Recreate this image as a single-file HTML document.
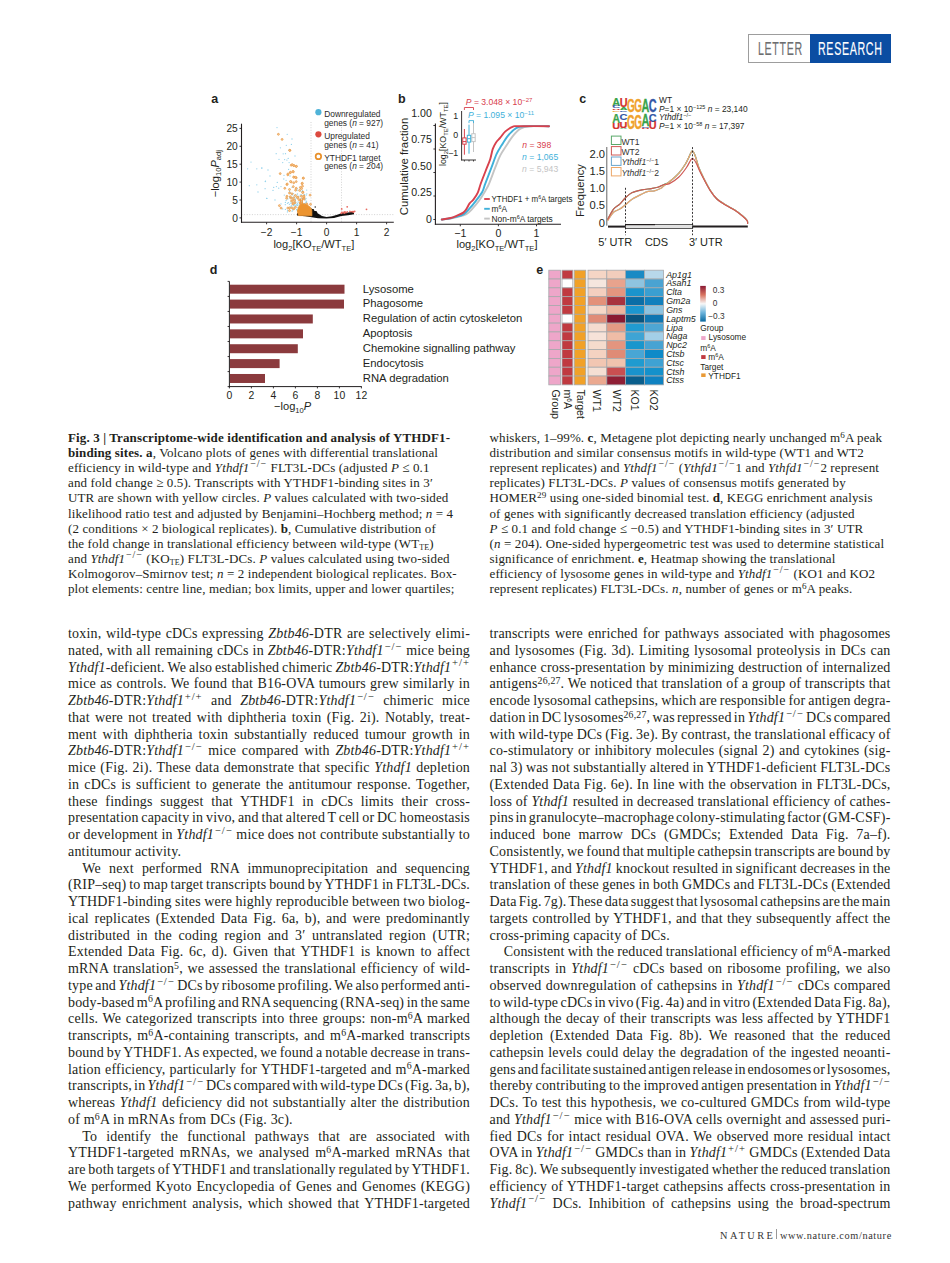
<!DOCTYPE html>
<html><head><meta charset="utf-8">
<style>
html,body{margin:0;padding:0;background:#fff;}
body{width:950px;height:1263px;position:relative;overflow:hidden;font-family:"Liberation Serif",serif;color:#231f20;}
.hdr{position:absolute;left:748px;top:34px;width:143px;height:28px;}
.hdr .w{position:absolute;left:0;top:0;width:61px;height:27px;border:1px solid #9d9d9d;border-right:none;background:#fff;}
.hdr .b{position:absolute;left:62px;top:0;width:81px;height:29px;background:#0b4da2;}
.hdr span{position:absolute;top:5.3px;font-family:"Liberation Sans",sans-serif;font-size:17.8px;line-height:21px;white-space:nowrap;transform-origin:0 0;-webkit-text-stroke:0.15px currentColor;letter-spacing:1.1px;}
.col{position:absolute;white-space:nowrap;}
.cap{font-size:13px;line-height:15.18px;letter-spacing:0.12px;}
.txt{font-size:14px;line-height:16.75px;letter-spacing:0.18px;}
.txt .l{text-align:justify;text-align-last:justify;}
.txt .e{text-align:left;}
.txt .ind{text-indent:14.2px;}
i{font-style:italic;}
sup{font-size:0.7em;vertical-align:0;position:relative;top:-0.45em;line-height:0;}
sup.k{letter-spacing:1px;margin-left:0.8px;font-size:0.76em;top:-0.5em;}
sub{font-size:0.62em;vertical-align:0;position:relative;top:0.25em;line-height:0;}
.ftr{position:absolute;left:720px;top:1230px;font-size:10.3px;line-height:12px;white-space:nowrap;color:#333;}
svg{position:absolute;left:0;top:0;}
</style></head><body>

<div class="hdr">
  <div class="w"></div><div class="b"></div>
  <span style="left:9.5px;color:#6d6e70;transform:scaleX(0.6)">LETTER</span>
  <span style="left:70px;color:#fff;transform:scaleX(0.6)">RESEARCH</span>
</div>

<!-- FIGURE -->
<svg id="fig" width="950" height="428" viewBox="0 0 950 428" font-family="Liberation Sans, sans-serif">
<text x="211.3" y="103.2" font-size="12.5" text-anchor="start" fill="#231f20" font-weight="bold">a</text>
<line x1="311.0" y1="122" x2="311.0" y2="222.3" stroke="#c8c8c8" stroke-width="0.8" stroke-dasharray="1 1.6"/>
<line x1="341.5" y1="122" x2="341.5" y2="222.3" stroke="#c8c8c8" stroke-width="0.8" stroke-dasharray="1 1.6"/>
<line x1="241.5" y1="214.6" x2="393.5" y2="214.6" stroke="#c8c8c8" stroke-width="0.8" stroke-dasharray="1 1.6"/>
<circle cx="261.7" cy="168.1" r="0.65" fill="#94d2ec"/>
<circle cx="265.5" cy="181.2" r="0.65" fill="#94d2ec"/>
<circle cx="265.1" cy="188.7" r="0.65" fill="#94d2ec"/>
<circle cx="266.7" cy="198.4" r="0.65" fill="#94d2ec"/>
<circle cx="273.0" cy="190.4" r="0.65" fill="#94d2ec"/>
<circle cx="276.4" cy="186.6" r="0.65" fill="#94d2ec"/>
<circle cx="277.3" cy="182.4" r="0.65" fill="#94d2ec"/>
<circle cx="281.0" cy="186.6" r="0.65" fill="#94d2ec"/>
<circle cx="282.7" cy="162.6" r="0.65" fill="#94d2ec"/>
<circle cx="279.0" cy="159.3" r="0.65" fill="#94d2ec"/>
<circle cx="283.2" cy="153.8" r="0.65" fill="#94d2ec"/>
<circle cx="288.2" cy="158.4" r="0.65" fill="#94d2ec"/>
<circle cx="286.9" cy="160.1" r="0.65" fill="#94d2ec"/>
<circle cx="289.1" cy="162.6" r="0.65" fill="#94d2ec"/>
<circle cx="288.6" cy="169.4" r="0.65" fill="#94d2ec"/>
<circle cx="284.0" cy="175.3" r="0.65" fill="#94d2ec"/>
<circle cx="286.1" cy="180.3" r="0.65" fill="#94d2ec"/>
<circle cx="281.0" cy="203.9" r="0.65" fill="#94d2ec"/>
<circle cx="282.7" cy="208.9" r="0.65" fill="#94d2ec"/>
<circle cx="285.3" cy="204.7" r="0.65" fill="#94d2ec"/>
<circle cx="286.1" cy="200.5" r="0.65" fill="#94d2ec"/>
<circle cx="277.0" cy="127.6" r="0.65" fill="#94d2ec"/>
<circle cx="287.2" cy="134.3" r="0.65" fill="#94d2ec"/>
<circle cx="291.4" cy="144.4" r="0.65" fill="#94d2ec"/>
<circle cx="251.0" cy="162.1" r="0.65" fill="#94d2ec"/>
<circle cx="247.6" cy="168.8" r="0.65" fill="#94d2ec"/>
<circle cx="256.8" cy="168.8" r="0.65" fill="#94d2ec"/>
<circle cx="261.9" cy="168.0" r="0.65" fill="#94d2ec"/>
<circle cx="249.3" cy="185.7" r="0.65" fill="#94d2ec"/>
<circle cx="256.8" cy="184.8" r="0.65" fill="#94d2ec"/>
<circle cx="266.9" cy="198.3" r="0.65" fill="#94d2ec"/>
<circle cx="265.3" cy="181.5" r="0.65" fill="#94d2ec"/>
<circle cx="278.7" cy="188.2" r="0.65" fill="#94d2ec"/>
<circle cx="273.7" cy="187.4" r="0.65" fill="#94d2ec"/>
<circle cx="276.2" cy="153.7" r="0.65" fill="#94d2ec"/>
<circle cx="285.5" cy="153.7" r="0.65" fill="#94d2ec"/>
<circle cx="284.6" cy="159.6" r="0.65" fill="#94d2ec"/>
<circle cx="280.4" cy="147.8" r="0.65" fill="#94d2ec"/>
<circle cx="286.3" cy="145.3" r="0.65" fill="#94d2ec"/>
<circle cx="283.8" cy="179.0" r="0.65" fill="#94d2ec"/>
<circle cx="270.0" cy="176.0" r="0.65" fill="#94d2ec"/>
<circle cx="292.0" cy="139.0" r="0.65" fill="#94d2ec"/>
<circle cx="289.0" cy="150.0" r="0.65" fill="#94d2ec"/>
<circle cx="295.0" cy="156.0" r="0.65" fill="#94d2ec"/>
<circle cx="268.0" cy="170.0" r="0.65" fill="#94d2ec"/>
<circle cx="258.0" cy="192.0" r="0.65" fill="#94d2ec"/>
<circle cx="275.0" cy="200.0" r="0.65" fill="#94d2ec"/>
<circle cx="290.0" cy="176.0" r="0.65" fill="#94d2ec"/>
<circle cx="296.8" cy="195.1" r="0.65" fill="#94d2ec"/>
<circle cx="302.1" cy="191.7" r="0.65" fill="#94d2ec"/>
<circle cx="300.4" cy="201.2" r="0.65" fill="#94d2ec"/>
<circle cx="289.4" cy="204.3" r="0.65" fill="#94d2ec"/>
<circle cx="288.3" cy="202.7" r="0.65" fill="#94d2ec"/>
<circle cx="289.9" cy="192.6" r="0.65" fill="#94d2ec"/>
<circle cx="298.6" cy="209.9" r="0.65" fill="#94d2ec"/>
<circle cx="291.9" cy="197.4" r="0.65" fill="#94d2ec"/>
<circle cx="301.8" cy="211.8" r="0.65" fill="#94d2ec"/>
<circle cx="301.1" cy="201.9" r="0.65" fill="#94d2ec"/>
<circle cx="306.7" cy="190.1" r="0.65" fill="#94d2ec"/>
<circle cx="304.8" cy="199.3" r="0.65" fill="#94d2ec"/>
<circle cx="292.5" cy="193.8" r="0.65" fill="#94d2ec"/>
<circle cx="296.5" cy="209.7" r="0.65" fill="#94d2ec"/>
<circle cx="293.5" cy="205.7" r="0.65" fill="#94d2ec"/>
<circle cx="301.9" cy="201.4" r="0.65" fill="#94d2ec"/>
<circle cx="300.6" cy="191.1" r="0.65" fill="#94d2ec"/>
<circle cx="289.5" cy="196.9" r="0.65" fill="#94d2ec"/>
<circle cx="302.5" cy="202.6" r="0.65" fill="#94d2ec"/>
<circle cx="296.6" cy="205.8" r="0.65" fill="#94d2ec"/>
<circle cx="299.1" cy="199.6" r="0.65" fill="#94d2ec"/>
<circle cx="304.0" cy="207.8" r="0.65" fill="#94d2ec"/>
<circle cx="295.1" cy="205.6" r="0.65" fill="#94d2ec"/>
<circle cx="300.3" cy="210.6" r="0.65" fill="#94d2ec"/>
<circle cx="303.2" cy="199.3" r="0.65" fill="#94d2ec"/>
<circle cx="306.8" cy="193.8" r="0.65" fill="#94d2ec"/>
<circle cx="298.5" cy="208.8" r="0.65" fill="#94d2ec"/>
<circle cx="292.8" cy="203.9" r="0.65" fill="#94d2ec"/>
<circle cx="288.4" cy="207.3" r="0.65" fill="#94d2ec"/>
<circle cx="303.6" cy="205.5" r="0.65" fill="#94d2ec"/>
<circle cx="305.0" cy="199.9" r="0.65" fill="#94d2ec"/>
<circle cx="302.7" cy="205.9" r="0.65" fill="#94d2ec"/>
<circle cx="301.1" cy="203.2" r="0.65" fill="#94d2ec"/>
<circle cx="304.6" cy="211.8" r="0.65" fill="#94d2ec"/>
<circle cx="299.5" cy="207.2" r="0.65" fill="#94d2ec"/>
<circle cx="289.5" cy="207.8" r="0.65" fill="#94d2ec"/>
<circle cx="302.1" cy="213.2" r="0.65" fill="#94d2ec"/>
<circle cx="304.4" cy="199.2" r="0.65" fill="#94d2ec"/>
<circle cx="297.9" cy="207.3" r="0.65" fill="#94d2ec"/>
<circle cx="287.4" cy="203.3" r="0.65" fill="#94d2ec"/>
<circle cx="293.2" cy="193.7" r="0.65" fill="#94d2ec"/>
<circle cx="289.5" cy="208.9" r="0.65" fill="#94d2ec"/>
<circle cx="292.1" cy="198.2" r="0.65" fill="#94d2ec"/>
<circle cx="298.0" cy="210.6" r="0.65" fill="#94d2ec"/>
<circle cx="290.4" cy="203.1" r="0.65" fill="#94d2ec"/>
<circle cx="300.6" cy="210.7" r="0.65" fill="#94d2ec"/>
<circle cx="304.3" cy="210.5" r="0.65" fill="#94d2ec"/>
<circle cx="295.8" cy="202.3" r="0.65" fill="#94d2ec"/>
<circle cx="297.4" cy="210.8" r="0.65" fill="#94d2ec"/>
<circle cx="306.3" cy="195.1" r="0.65" fill="#94d2ec"/>
<circle cx="293.4" cy="197.7" r="0.65" fill="#94d2ec"/>
<circle cx="294.8" cy="203.8" r="0.65" fill="#94d2ec"/>
<circle cx="301.2" cy="198.6" r="0.65" fill="#94d2ec"/>
<circle cx="285.4" cy="202.4" r="0.65" fill="#94d2ec"/>
<circle cx="297.6" cy="205.4" r="0.65" fill="#94d2ec"/>
<circle cx="306.2" cy="207.6" r="0.65" fill="#94d2ec"/>
<circle cx="300.1" cy="206.4" r="0.65" fill="#94d2ec"/>
<circle cx="302.5" cy="190.6" r="0.65" fill="#94d2ec"/>
<circle cx="305.3" cy="209.1" r="0.65" fill="#94d2ec"/>
<circle cx="305.0" cy="209.4" r="0.65" fill="#94d2ec"/>
<circle cx="298.1" cy="202.0" r="0.65" fill="#94d2ec"/>
<circle cx="291.2" cy="206.7" r="0.65" fill="#94d2ec"/>
<circle cx="289.6" cy="191.4" r="0.65" fill="#94d2ec"/>
<circle cx="294.3" cy="195.5" r="0.65" fill="#94d2ec"/>
<circle cx="297.1" cy="190.5" r="0.65" fill="#94d2ec"/>
<circle cx="284.3" cy="195.1" r="0.65" fill="#94d2ec"/>
<circle cx="291.2" cy="201.2" r="0.65" fill="#94d2ec"/>
<circle cx="287.6" cy="210.6" r="0.65" fill="#94d2ec"/>
<circle cx="301.6" cy="195.0" r="0.65" fill="#94d2ec"/>
<circle cx="295.3" cy="200.8" r="0.65" fill="#94d2ec"/>
<circle cx="297.5" cy="194.0" r="0.65" fill="#94d2ec"/>
<circle cx="304.7" cy="213.2" r="0.65" fill="#94d2ec"/>
<circle cx="299.3" cy="203.8" r="0.65" fill="#94d2ec"/>
<circle cx="290.6" cy="193.1" r="0.65" fill="#94d2ec"/>
<circle cx="297.1" cy="198.6" r="0.65" fill="#94d2ec"/>
<circle cx="304.4" cy="195.4" r="0.65" fill="#94d2ec"/>
<circle cx="287.4" cy="211.9" r="0.65" fill="#94d2ec"/>
<circle cx="300.3" cy="194.9" r="0.65" fill="#94d2ec"/>
<circle cx="300.5" cy="188.7" r="0.65" fill="#94d2ec"/>
<circle cx="300.3" cy="212.6" r="0.65" fill="#94d2ec"/>
<circle cx="304.9" cy="207.7" r="0.65" fill="#94d2ec"/>
<circle cx="295.5" cy="201.2" r="0.65" fill="#94d2ec"/>
<circle cx="293.2" cy="209.0" r="0.65" fill="#94d2ec"/>
<circle cx="300.4" cy="209.1" r="0.65" fill="#94d2ec"/>
<circle cx="296.9" cy="197.4" r="0.65" fill="#94d2ec"/>
<circle cx="304.2" cy="212.8" r="0.65" fill="#94d2ec"/>
<circle cx="304.7" cy="209.6" r="0.65" fill="#94d2ec"/>
<circle cx="304.3" cy="208.5" r="0.65" fill="#94d2ec"/>
<circle cx="294.7" cy="204.5" r="0.65" fill="#94d2ec"/>
<circle cx="297.4" cy="188.8" r="0.65" fill="#94d2ec"/>
<circle cx="287.8" cy="199.0" r="0.65" fill="#94d2ec"/>
<circle cx="295.4" cy="207.7" r="0.65" fill="#94d2ec"/>
<circle cx="306.2" cy="203.0" r="0.65" fill="#94d2ec"/>
<circle cx="305.9" cy="213.0" r="0.65" fill="#94d2ec"/>
<circle cx="306.2" cy="201.2" r="0.65" fill="#94d2ec"/>
<circle cx="294.5" cy="197.6" r="0.65" fill="#94d2ec"/>
<circle cx="294.0" cy="196.9" r="0.65" fill="#94d2ec"/>
<circle cx="301.7" cy="211.0" r="0.65" fill="#94d2ec"/>
<circle cx="304.6" cy="203.7" r="0.65" fill="#94d2ec"/>
<circle cx="302.1" cy="209.5" r="0.65" fill="#94d2ec"/>
<circle cx="290.5" cy="207.1" r="0.65" fill="#94d2ec"/>
<circle cx="305.5" cy="209.2" r="0.65" fill="#94d2ec"/>
<circle cx="303.4" cy="203.7" r="0.65" fill="#94d2ec"/>
<circle cx="293.5" cy="209.3" r="0.65" fill="#94d2ec"/>
<circle cx="296.9" cy="209.5" r="0.65" fill="#94d2ec"/>
<circle cx="306.6" cy="201.9" r="0.65" fill="#94d2ec"/>
<circle cx="298.2" cy="211.8" r="0.65" fill="#94d2ec"/>
<circle cx="303.1" cy="195.7" r="0.65" fill="#94d2ec"/>
<circle cx="292.0" cy="195.1" r="0.65" fill="#94d2ec"/>
<circle cx="305.4" cy="209.6" r="0.65" fill="#94d2ec"/>
<circle cx="292.6" cy="209.9" r="0.65" fill="#94d2ec"/>
<circle cx="306.8" cy="207.1" r="0.65" fill="#94d2ec"/>
<circle cx="297.3" cy="205.1" r="0.65" fill="#94d2ec"/>
<circle cx="292.1" cy="187.4" r="0.65" fill="#94d2ec"/>
<circle cx="306.6" cy="206.9" r="0.65" fill="#94d2ec"/>
<circle cx="300.3" cy="211.6" r="0.65" fill="#94d2ec"/>
<circle cx="298.8" cy="210.6" r="0.65" fill="#94d2ec"/>
<circle cx="304.4" cy="197.1" r="0.65" fill="#94d2ec"/>
<circle cx="295.3" cy="199.4" r="0.65" fill="#94d2ec"/>
<circle cx="295.0" cy="205.8" r="0.65" fill="#94d2ec"/>
<circle cx="295.4" cy="202.4" r="0.65" fill="#94d2ec"/>
<circle cx="292.1" cy="211.2" r="0.65" fill="#94d2ec"/>
<circle cx="297.4" cy="203.3" r="0.65" fill="#94d2ec"/>
<circle cx="301.1" cy="211.1" r="0.65" fill="#94d2ec"/>
<circle cx="298.6" cy="211.3" r="0.65" fill="#94d2ec"/>
<circle cx="299.9" cy="204.8" r="0.65" fill="#94d2ec"/>
<circle cx="300.2" cy="187.9" r="0.65" fill="#94d2ec"/>
<circle cx="298.9" cy="196.2" r="0.65" fill="#94d2ec"/>
<circle cx="285.4" cy="209.4" r="0.65" fill="#94d2ec"/>
<circle cx="293.3" cy="203.6" r="0.65" fill="#94d2ec"/>
<circle cx="303.1" cy="205.2" r="0.65" fill="#94d2ec"/>
<circle cx="296.8" cy="204.5" r="0.65" fill="#94d2ec"/>
<circle cx="300.7" cy="209.2" r="0.65" fill="#94d2ec"/>
<circle cx="291.3" cy="205.3" r="0.65" fill="#94d2ec"/>
<circle cx="295.2" cy="199.0" r="0.65" fill="#94d2ec"/>
<circle cx="303.7" cy="204.3" r="0.65" fill="#94d2ec"/>
<circle cx="300.8" cy="208.8" r="0.65" fill="#94d2ec"/>
<circle cx="305.5" cy="202.9" r="0.65" fill="#94d2ec"/>
<circle cx="301.6" cy="204.2" r="0.65" fill="#94d2ec"/>
<circle cx="300.1" cy="207.7" r="0.65" fill="#94d2ec"/>
<circle cx="299.1" cy="204.8" r="0.65" fill="#94d2ec"/>
<circle cx="299.5" cy="211.7" r="0.65" fill="#94d2ec"/>
<circle cx="302.8" cy="210.6" r="0.65" fill="#94d2ec"/>
<circle cx="306.0" cy="198.5" r="0.65" fill="#94d2ec"/>
<circle cx="300.8" cy="211.7" r="0.65" fill="#94d2ec"/>
<circle cx="304.6" cy="194.5" r="0.65" fill="#94d2ec"/>
<circle cx="291.8" cy="202.9" r="0.65" fill="#94d2ec"/>
<circle cx="290.0" cy="198.0" r="0.65" fill="#94d2ec"/>
<circle cx="290.1" cy="207.3" r="0.65" fill="#94d2ec"/>
<circle cx="303.9" cy="211.0" r="0.65" fill="#94d2ec"/>
<path d="M297,213.3 L302,212.6 L306,211.6 L309,210.2 L311.8,208.8 L314,210.5 L318,213.6 L322,216.0 L326.5,217.0 L332,216.3 L338,214.6 L341.3,213.2 L348,212.6 L354,211.6 L354,214.2 L348,215.3 L341.3,216.1 L334,217.9 L326.5,218.6 L318,218.2 L311.8,217.2 L305,216.3 L297,215.4Z" fill="#111"/>
<circle cx="312.1" cy="213.3" r="0.7" fill="#111"/>
<circle cx="315.6" cy="211.8" r="0.7" fill="#111"/>
<circle cx="317.2" cy="214.9" r="0.7" fill="#111"/>
<circle cx="312.5" cy="214.7" r="0.7" fill="#111"/>
<circle cx="313.8" cy="212.5" r="0.7" fill="#111"/>
<circle cx="317.9" cy="214.6" r="0.7" fill="#111"/>
<circle cx="312.1" cy="211.7" r="0.7" fill="#111"/>
<circle cx="314.6" cy="212.1" r="0.7" fill="#111"/>
<circle cx="312.4" cy="211.1" r="0.7" fill="#111"/>
<circle cx="316.1" cy="211.6" r="0.7" fill="#111"/>
<circle cx="314.9" cy="212.7" r="0.7" fill="#111"/>
<circle cx="311.1" cy="210.7" r="0.7" fill="#111"/>
<circle cx="315.4" cy="213.1" r="0.7" fill="#111"/>
<circle cx="311.5" cy="214.9" r="0.7" fill="#111"/>
<circle cx="316.5" cy="214.9" r="0.7" fill="#111"/>
<circle cx="311.7" cy="210.5" r="0.7" fill="#111"/>
<circle cx="311.3" cy="213.6" r="0.7" fill="#111"/>
<circle cx="312.9" cy="210.3" r="0.7" fill="#111"/>
<circle cx="314.0" cy="214.6" r="0.7" fill="#111"/>
<circle cx="316.7" cy="212.7" r="0.7" fill="#111"/>
<circle cx="312.0" cy="214.5" r="0.7" fill="#111"/>
<circle cx="315.0" cy="213.8" r="0.7" fill="#111"/>
<circle cx="311.6" cy="209.2" r="0.7" fill="#111"/>
<circle cx="315.8" cy="212.9" r="0.7" fill="#111"/>
<circle cx="311.5" cy="214.6" r="0.7" fill="#111"/>
<circle cx="315.4" cy="214.2" r="0.7" fill="#111"/>
<circle cx="311.6" cy="214.1" r="0.7" fill="#111"/>
<circle cx="311.5" cy="214.1" r="0.7" fill="#111"/>
<circle cx="314.2" cy="212.0" r="0.7" fill="#111"/>
<circle cx="314.9" cy="214.7" r="0.7" fill="#111"/>
<circle cx="312.9" cy="210.3" r="0.7" fill="#111"/>
<circle cx="314.7" cy="211.7" r="0.7" fill="#111"/>
<circle cx="311.8" cy="209.9" r="0.7" fill="#111"/>
<circle cx="311.4" cy="210.0" r="0.7" fill="#111"/>
<circle cx="313.2" cy="211.4" r="0.7" fill="#111"/>
<circle cx="316.3" cy="212.6" r="0.7" fill="#111"/>
<circle cx="314.5" cy="211.4" r="0.7" fill="#111"/>
<circle cx="313.4" cy="210.0" r="0.7" fill="#111"/>
<circle cx="312.8" cy="209.6" r="0.7" fill="#111"/>
<circle cx="316.1" cy="213.5" r="0.7" fill="#111"/>
<circle cx="315.2" cy="207.0" r="0.7" fill="#111"/>
<circle cx="343.5" cy="212.7" r="0.75" fill="#e86a60"/>
<circle cx="353.2" cy="212.2" r="0.75" fill="#e86a60"/>
<circle cx="351.6" cy="211.8" r="0.75" fill="#e86a60"/>
<circle cx="347.4" cy="211.7" r="0.75" fill="#e86a60"/>
<circle cx="346.1" cy="212.4" r="0.75" fill="#e86a60"/>
<circle cx="349.9" cy="211.2" r="0.75" fill="#e86a60"/>
<circle cx="345.5" cy="211.9" r="0.75" fill="#e86a60"/>
<circle cx="350.2" cy="211.7" r="0.75" fill="#e86a60"/>
<circle cx="346.3" cy="212.6" r="0.75" fill="#e86a60"/>
<circle cx="341.7" cy="213.5" r="0.75" fill="#e86a60"/>
<circle cx="341.9" cy="212.5" r="0.75" fill="#e86a60"/>
<circle cx="344.3" cy="213.1" r="0.75" fill="#e86a60"/>
<circle cx="342.1" cy="212.3" r="0.75" fill="#e86a60"/>
<circle cx="352.3" cy="211.4" r="0.75" fill="#e86a60"/>
<circle cx="344.7" cy="213.0" r="0.75" fill="#e86a60"/>
<circle cx="344.8" cy="212.6" r="0.75" fill="#e86a60"/>
<circle cx="343.0" cy="212.8" r="0.75" fill="#e86a60"/>
<circle cx="344.4" cy="211.9" r="0.75" fill="#e86a60"/>
<circle cx="353.6" cy="211.4" r="0.75" fill="#e86a60"/>
<circle cx="344.2" cy="211.9" r="0.75" fill="#e86a60"/>
<circle cx="345.0" cy="212.7" r="0.75" fill="#e86a60"/>
<circle cx="341.0" cy="213.2" r="0.75" fill="#e86a60"/>
<circle cx="347.2" cy="206.8" r="0.9" fill="#e86a60"/>
<circle cx="366.5" cy="209.3" r="0.9" fill="#e86a60"/>
<circle cx="341.7" cy="208.9" r="0.9" fill="#e86a60"/>
<circle cx="354.7" cy="211.3" r="0.9" fill="#e86a60"/>
<circle cx="353.5" cy="212" r="0.9" fill="#e86a60"/>
<circle cx="289.9" cy="150.4" r="0.95" fill="#f5d0a3" stroke="#ea9a45" stroke-width="0.75"/>
<circle cx="291.2" cy="165.2" r="0.95" fill="#f5d0a3" stroke="#ea9a45" stroke-width="0.75"/>
<circle cx="293.7" cy="165.6" r="0.95" fill="#f5d0a3" stroke="#ea9a45" stroke-width="0.75"/>
<circle cx="296.2" cy="166.4" r="0.95" fill="#f5d0a3" stroke="#ea9a45" stroke-width="0.75"/>
<circle cx="280.2" cy="173.6" r="0.95" fill="#f5d0a3" stroke="#ea9a45" stroke-width="0.75"/>
<circle cx="287.8" cy="174.8" r="0.95" fill="#f5d0a3" stroke="#ea9a45" stroke-width="0.75"/>
<circle cx="290.3" cy="172.7" r="0.95" fill="#f5d0a3" stroke="#ea9a45" stroke-width="0.75"/>
<circle cx="293.3" cy="171.9" r="0.95" fill="#f5d0a3" stroke="#ea9a45" stroke-width="0.75"/>
<circle cx="293.7" cy="177.0" r="0.95" fill="#f5d0a3" stroke="#ea9a45" stroke-width="0.75"/>
<circle cx="296.2" cy="177.8" r="0.95" fill="#f5d0a3" stroke="#ea9a45" stroke-width="0.75"/>
<circle cx="303.4" cy="178.2" r="0.95" fill="#f5d0a3" stroke="#ea9a45" stroke-width="0.75"/>
<circle cx="291.2" cy="182.0" r="0.95" fill="#f5d0a3" stroke="#ea9a45" stroke-width="0.75"/>
<circle cx="293.7" cy="182.8" r="0.95" fill="#f5d0a3" stroke="#ea9a45" stroke-width="0.75"/>
<circle cx="296.2" cy="181.6" r="0.95" fill="#f5d0a3" stroke="#ea9a45" stroke-width="0.75"/>
<circle cx="286.9" cy="184.5" r="0.95" fill="#f5d0a3" stroke="#ea9a45" stroke-width="0.75"/>
<circle cx="302.1" cy="183.7" r="0.95" fill="#f5d0a3" stroke="#ea9a45" stroke-width="0.75"/>
<circle cx="302.5" cy="186.2" r="0.95" fill="#f5d0a3" stroke="#ea9a45" stroke-width="0.75"/>
<circle cx="284.8" cy="188.3" r="0.95" fill="#f5d0a3" stroke="#ea9a45" stroke-width="0.75"/>
<circle cx="293.3" cy="186.6" r="0.95" fill="#f5d0a3" stroke="#ea9a45" stroke-width="0.75"/>
<circle cx="296.2" cy="188.3" r="0.95" fill="#f5d0a3" stroke="#ea9a45" stroke-width="0.75"/>
<circle cx="289.5" cy="193.0" r="0.95" fill="#f5d0a3" stroke="#ea9a45" stroke-width="0.75"/>
<circle cx="292.0" cy="193.8" r="0.95" fill="#f5d0a3" stroke="#ea9a45" stroke-width="0.75"/>
<circle cx="299.6" cy="190.4" r="0.95" fill="#f5d0a3" stroke="#ea9a45" stroke-width="0.75"/>
<circle cx="286.9" cy="196.3" r="0.95" fill="#f5d0a3" stroke="#ea9a45" stroke-width="0.75"/>
<circle cx="290.3" cy="196.7" r="0.95" fill="#f5d0a3" stroke="#ea9a45" stroke-width="0.75"/>
<circle cx="295.4" cy="195.5" r="0.95" fill="#f5d0a3" stroke="#ea9a45" stroke-width="0.75"/>
<circle cx="294.5" cy="200.5" r="0.95" fill="#f5d0a3" stroke="#ea9a45" stroke-width="0.75"/>
<circle cx="297.9" cy="197.2" r="0.95" fill="#f5d0a3" stroke="#ea9a45" stroke-width="0.75"/>
<circle cx="301.3" cy="196.3" r="0.95" fill="#f5d0a3" stroke="#ea9a45" stroke-width="0.75"/>
<circle cx="303.8" cy="195.9" r="0.95" fill="#f5d0a3" stroke="#ea9a45" stroke-width="0.75"/>
<circle cx="306.7" cy="203.9" r="0.95" fill="#f5d0a3" stroke="#ea9a45" stroke-width="0.75"/>
<circle cx="310.5" cy="204.3" r="0.95" fill="#f5d0a3" stroke="#ea9a45" stroke-width="0.75"/>
<circle cx="279.4" cy="205.6" r="0.95" fill="#f5d0a3" stroke="#ea9a45" stroke-width="0.75"/>
<circle cx="281.1" cy="208.1" r="0.95" fill="#f5d0a3" stroke="#ea9a45" stroke-width="0.75"/>
<circle cx="287.8" cy="208.1" r="0.95" fill="#f5d0a3" stroke="#ea9a45" stroke-width="0.75"/>
<circle cx="292.8" cy="203.9" r="0.95" fill="#f5d0a3" stroke="#ea9a45" stroke-width="0.75"/>
<circle cx="293.7" cy="208.9" r="0.95" fill="#f5d0a3" stroke="#ea9a45" stroke-width="0.75"/>
<circle cx="295.4" cy="207.3" r="0.95" fill="#f5d0a3" stroke="#ea9a45" stroke-width="0.75"/>
<circle cx="289.5" cy="210.6" r="0.95" fill="#f5d0a3" stroke="#ea9a45" stroke-width="0.75"/>
<circle cx="278.4" cy="134.3" r="0.95" fill="#f5d0a3" stroke="#ea9a45" stroke-width="0.75"/>
<circle cx="282.1" cy="139.4" r="0.95" fill="#f5d0a3" stroke="#ea9a45" stroke-width="0.75"/>
<circle cx="289.7" cy="150.3" r="0.95" fill="#f5d0a3" stroke="#ea9a45" stroke-width="0.75"/>
<circle cx="292.2" cy="164.6" r="0.95" fill="#f5d0a3" stroke="#ea9a45" stroke-width="0.75"/>
<circle cx="293.9" cy="165.5" r="0.95" fill="#f5d0a3" stroke="#ea9a45" stroke-width="0.75"/>
<circle cx="296.4" cy="166.3" r="0.95" fill="#f5d0a3" stroke="#ea9a45" stroke-width="0.75"/>
<circle cx="288.0" cy="173.9" r="0.95" fill="#f5d0a3" stroke="#ea9a45" stroke-width="0.75"/>
<circle cx="290.5" cy="172.2" r="0.95" fill="#f5d0a3" stroke="#ea9a45" stroke-width="0.75"/>
<circle cx="293.0" cy="171.4" r="0.95" fill="#f5d0a3" stroke="#ea9a45" stroke-width="0.75"/>
<circle cx="293.9" cy="177.3" r="0.95" fill="#f5d0a3" stroke="#ea9a45" stroke-width="0.75"/>
<circle cx="295.6" cy="177.3" r="0.95" fill="#f5d0a3" stroke="#ea9a45" stroke-width="0.75"/>
<circle cx="303.2" cy="178.1" r="0.95" fill="#f5d0a3" stroke="#ea9a45" stroke-width="0.75"/>
<circle cx="302.3" cy="183.2" r="0.95" fill="#f5d0a3" stroke="#ea9a45" stroke-width="0.75"/>
<circle cx="287.2" cy="184.0" r="0.95" fill="#f5d0a3" stroke="#ea9a45" stroke-width="0.75"/>
<circle cx="290.5" cy="181.5" r="0.95" fill="#f5d0a3" stroke="#ea9a45" stroke-width="0.75"/>
<circle cx="300.2" cy="202.8" r="0.95" fill="#f5d0a3" stroke="#ea9a45" stroke-width="0.75"/>
<circle cx="294.9" cy="202.8" r="0.95" fill="#f5d0a3" stroke="#ea9a45" stroke-width="0.75"/>
<circle cx="286.6" cy="198.2" r="0.95" fill="#f5d0a3" stroke="#ea9a45" stroke-width="0.75"/>
<circle cx="291.6" cy="201.0" r="0.95" fill="#f5d0a3" stroke="#ea9a45" stroke-width="0.75"/>
<circle cx="289.5" cy="189.5" r="0.95" fill="#f5d0a3" stroke="#ea9a45" stroke-width="0.75"/>
<circle cx="297.2" cy="197.4" r="0.95" fill="#f5d0a3" stroke="#ea9a45" stroke-width="0.75"/>
<circle cx="301.9" cy="203.2" r="0.95" fill="#f5d0a3" stroke="#ea9a45" stroke-width="0.75"/>
<circle cx="304.2" cy="205.2" r="0.95" fill="#f5d0a3" stroke="#ea9a45" stroke-width="0.75"/>
<circle cx="303.7" cy="208.8" r="0.95" fill="#f5d0a3" stroke="#ea9a45" stroke-width="0.75"/>
<circle cx="298.8" cy="199.5" r="0.95" fill="#f5d0a3" stroke="#ea9a45" stroke-width="0.75"/>
<circle cx="310.1" cy="195.1" r="0.95" fill="#f5d0a3" stroke="#ea9a45" stroke-width="0.75"/>
<circle cx="303.8" cy="205.0" r="0.95" fill="#f5d0a3" stroke="#ea9a45" stroke-width="0.75"/>
<circle cx="289.6" cy="207.9" r="0.95" fill="#f5d0a3" stroke="#ea9a45" stroke-width="0.75"/>
<circle cx="306.9" cy="204.7" r="0.95" fill="#f5d0a3" stroke="#ea9a45" stroke-width="0.75"/>
<circle cx="304.0" cy="207.5" r="0.95" fill="#f5d0a3" stroke="#ea9a45" stroke-width="0.75"/>
<circle cx="293.2" cy="203.1" r="0.95" fill="#f5d0a3" stroke="#ea9a45" stroke-width="0.75"/>
<circle cx="300.7" cy="207.9" r="0.95" fill="#f5d0a3" stroke="#ea9a45" stroke-width="0.75"/>
<circle cx="305.1" cy="207.8" r="0.95" fill="#f5d0a3" stroke="#ea9a45" stroke-width="0.75"/>
<circle cx="301.8" cy="209.1" r="0.95" fill="#f5d0a3" stroke="#ea9a45" stroke-width="0.75"/>
<circle cx="303.2" cy="205.7" r="0.95" fill="#f5d0a3" stroke="#ea9a45" stroke-width="0.75"/>
<circle cx="295.6" cy="190.2" r="0.95" fill="#f5d0a3" stroke="#ea9a45" stroke-width="0.75"/>
<circle cx="293.0" cy="200.2" r="0.95" fill="#f5d0a3" stroke="#ea9a45" stroke-width="0.75"/>
<circle cx="292.1" cy="207.9" r="0.95" fill="#f5d0a3" stroke="#ea9a45" stroke-width="0.75"/>
<circle cx="301.5" cy="204.7" r="0.95" fill="#f5d0a3" stroke="#ea9a45" stroke-width="0.75"/>
<circle cx="302.4" cy="205.5" r="0.95" fill="#f5d0a3" stroke="#ea9a45" stroke-width="0.75"/>
<circle cx="300.4" cy="187.4" r="0.95" fill="#f5d0a3" stroke="#ea9a45" stroke-width="0.75"/>
<circle cx="305.0" cy="206.5" r="0.95" fill="#f5d0a3" stroke="#ea9a45" stroke-width="0.75"/>
<circle cx="300.6" cy="203.3" r="0.95" fill="#f5d0a3" stroke="#ea9a45" stroke-width="0.75"/>
<circle cx="302.9" cy="192.1" r="0.95" fill="#f5d0a3" stroke="#ea9a45" stroke-width="0.75"/>
<circle cx="304.0" cy="197.9" r="0.95" fill="#f5d0a3" stroke="#ea9a45" stroke-width="0.75"/>
<circle cx="291.0" cy="198.2" r="0.95" fill="#f5d0a3" stroke="#ea9a45" stroke-width="0.75"/>
<circle cx="303.9" cy="196.7" r="0.95" fill="#f5d0a3" stroke="#ea9a45" stroke-width="0.75"/>
<circle cx="304.0" cy="211.7" r="0.95" fill="#f5d0a3" stroke="#ea9a45" stroke-width="0.75"/>
<circle cx="300.5" cy="200.6" r="0.95" fill="#f5d0a3" stroke="#ea9a45" stroke-width="0.75"/>
<circle cx="300.3" cy="205.6" r="0.95" fill="#f5d0a3" stroke="#ea9a45" stroke-width="0.75"/>
<circle cx="304.5" cy="204.6" r="0.95" fill="#f5d0a3" stroke="#ea9a45" stroke-width="0.75"/>
<circle cx="302.7" cy="192.6" r="0.95" fill="#f5d0a3" stroke="#ea9a45" stroke-width="0.75"/>
<circle cx="293.5" cy="197.9" r="0.95" fill="#f5d0a3" stroke="#ea9a45" stroke-width="0.75"/>
<circle cx="304.1" cy="199.1" r="0.95" fill="#f5d0a3" stroke="#ea9a45" stroke-width="0.75"/>
<circle cx="301.6" cy="188.6" r="0.95" fill="#f5d0a3" stroke="#ea9a45" stroke-width="0.75"/>
<rect x="300" y="198.5" width="1.2" height="7" fill="#ec9a45"/><rect x="301.8" y="197.5" width="1.1" height="8" fill="#ec9a45"/>
<path d="M298.4,215.6 L297.4,211 L298.5,207 L300.5,205 L302.5,204 L305,204.2 L308,205.5 L310.5,207.4 L311.8,210 L311.9,215.8Z" fill="#ec9430" stroke="#ec9430" stroke-width="0.8" stroke-linejoin="round"/>
<line x1="241.5" y1="123.7" x2="241.5" y2="222.8" stroke="#231f20" stroke-width="1.1" />
<line x1="241.0" y1="222.3" x2="393.8" y2="222.3" stroke="#231f20" stroke-width="1.1" />
<line x1="239.5" y1="217.9" x2="241.5" y2="217.9" stroke="#231f20" stroke-width="0.9" />
<text x="237.8" y="221.5" font-size="10.2" text-anchor="end" fill="#231f20" >0</text>
<line x1="239.5" y1="200.0" x2="241.5" y2="200.0" stroke="#231f20" stroke-width="0.9" />
<text x="237.8" y="203.6" font-size="10.2" text-anchor="end" fill="#231f20" >5</text>
<line x1="239.5" y1="182.10000000000002" x2="241.5" y2="182.10000000000002" stroke="#231f20" stroke-width="0.9" />
<text x="237.8" y="185.70000000000002" font-size="10.2" text-anchor="end" fill="#231f20" >10</text>
<line x1="239.5" y1="164.2" x2="241.5" y2="164.2" stroke="#231f20" stroke-width="0.9" />
<text x="237.8" y="167.79999999999998" font-size="10.2" text-anchor="end" fill="#231f20" >15</text>
<line x1="239.5" y1="146.3" x2="241.5" y2="146.3" stroke="#231f20" stroke-width="0.9" />
<text x="237.8" y="149.9" font-size="10.2" text-anchor="end" fill="#231f20" >20</text>
<line x1="239.5" y1="128.4" x2="241.5" y2="128.4" stroke="#231f20" stroke-width="0.9" />
<text x="237.8" y="132.0" font-size="10.2" text-anchor="end" fill="#231f20" >25</text>
<line x1="266.6" y1="222.3" x2="266.6" y2="224.3" stroke="#231f20" stroke-width="0.9" />
<text x="266.6" y="235.5" font-size="10.2" text-anchor="middle" fill="#231f20" >−2</text>
<line x1="296.6" y1="222.3" x2="296.6" y2="224.3" stroke="#231f20" stroke-width="0.9" />
<text x="296.6" y="235.5" font-size="10.2" text-anchor="middle" fill="#231f20" >−1</text>
<line x1="326.6" y1="222.3" x2="326.6" y2="224.3" stroke="#231f20" stroke-width="0.9" />
<text x="326.6" y="235.5" font-size="10.2" text-anchor="middle" fill="#231f20" >0</text>
<line x1="356.6" y1="222.3" x2="356.6" y2="224.3" stroke="#231f20" stroke-width="0.9" />
<text x="356.6" y="235.5" font-size="10.2" text-anchor="middle" fill="#231f20" >1</text>
<line x1="386.6" y1="222.3" x2="386.6" y2="224.3" stroke="#231f20" stroke-width="0.9" />
<text x="386.6" y="235.5" font-size="10.2" text-anchor="middle" fill="#231f20" >2</text>
<text x="313.9" y="248.4" font-size="11.1" text-anchor="middle" fill="#231f20" >log<tspan font-size="7.6" dy="2.6">2</tspan><tspan dy="-2.6">[KO</tspan><tspan font-size="7.6" dy="2.6">TE</tspan><tspan dy="-2.6">/WT</tspan><tspan font-size="7.6" dy="2.6">TE</tspan><tspan dy="-2.6">]</tspan></text>
<g transform="translate(218.8,173.7) rotate(-90)">
<text x="0" y="0" font-size="11.1" text-anchor="middle" fill="#231f20" >−log<tspan font-size="7.6" dy="2.6">10</tspan><tspan dy="-2.6" font-style="italic">P</tspan><tspan font-size="7.6" dy="2.6">adj</tspan></text>
</g>
<circle cx="318.4" cy="112.2" r="3.1" fill="#4fb3d8"/>
<circle cx="318.4" cy="134.3" r="3.1" fill="#dc4a3f"/>
<circle cx="318.4" cy="156.4" r="2.75" fill="none" stroke="#e8902a" stroke-width="1.7"/>
<text x="324.2" y="117" font-size="8.4" text-anchor="start" fill="#2a2a2a" >Downregulated</text>
<text x="324.2" y="125.6" font-size="8.4" text-anchor="start" fill="#2a2a2a" >genes (<tspan font-style="italic">n</tspan> = 927)</text>
<text x="324.2" y="139" font-size="8.4" text-anchor="start" fill="#2a2a2a" >Upregulated</text>
<text x="324.2" y="147.6" font-size="8.4" text-anchor="start" fill="#2a2a2a" >genes (<tspan font-style="italic">n</tspan> = 41)</text>
<text x="324.2" y="160.6" font-size="8.4" text-anchor="start" fill="#2a2a2a" >YTHDF1 target</text>
<text x="324.2" y="169.2" font-size="8.4" text-anchor="start" fill="#2a2a2a" >genes (<tspan font-style="italic">n</tspan> = 204)</text>
<text x="398" y="103.2" font-size="12.5" text-anchor="start" fill="#231f20" font-weight="bold">b</text>
<line x1="435.4" y1="123.5" x2="435.4" y2="224.8" stroke="#231f20" stroke-width="1.1" />
<line x1="434.9" y1="224.3" x2="561" y2="224.3" stroke="#231f20" stroke-width="1.1" />
<line x1="433.4" y1="125.5" x2="435.4" y2="125.5" stroke="#231f20" stroke-width="0.9" />
<line x1="433.4" y1="149" x2="435.4" y2="149" stroke="#231f20" stroke-width="0.9" />
<line x1="433.4" y1="172.5" x2="435.4" y2="172.5" stroke="#231f20" stroke-width="0.9" />
<line x1="433.4" y1="196" x2="435.4" y2="196" stroke="#231f20" stroke-width="0.9" />
<line x1="433.4" y1="219.5" x2="435.4" y2="219.5" stroke="#231f20" stroke-width="0.9" />
<text x="431.8" y="117" font-size="10.6" text-anchor="end" fill="#231f20" >1.00</text>
<text x="431.8" y="143.3" font-size="10.6" text-anchor="end" fill="#231f20" >0.75</text>
<text x="431.8" y="169.8" font-size="10.6" text-anchor="end" fill="#231f20" >0.50</text>
<text x="431.8" y="196.2" font-size="10.6" text-anchor="end" fill="#231f20" >0.25</text>
<text x="431.8" y="222.7" font-size="10.6" text-anchor="end" fill="#231f20" >0</text>
<line x1="460.3" y1="224.3" x2="460.3" y2="226.3" stroke="#231f20" stroke-width="0.9" />
<text x="460.3" y="236.8" font-size="10.6" text-anchor="middle" fill="#231f20" >−1</text>
<line x1="498.4" y1="224.3" x2="498.4" y2="226.3" stroke="#231f20" stroke-width="0.9" />
<text x="498.4" y="236.8" font-size="10.6" text-anchor="middle" fill="#231f20" >0</text>
<line x1="536.5" y1="224.3" x2="536.5" y2="226.3" stroke="#231f20" stroke-width="0.9" />
<text x="536.5" y="236.8" font-size="10.6" text-anchor="middle" fill="#231f20" >1</text>
<text x="497" y="248.4" font-size="11.1" text-anchor="middle" fill="#231f20" >log<tspan font-size="7.6" dy="2.6">2</tspan><tspan dy="-2.6">[KO</tspan><tspan font-size="7.6" dy="2.6">TE</tspan><tspan dy="-2.6">/WT</tspan><tspan font-size="7.6" dy="2.6">TE</tspan><tspan dy="-2.6">]</tspan></text>
<g transform="translate(407.6,166.5) rotate(-90)">
<text x="0" y="0" font-size="11.4" text-anchor="middle" fill="#231f20" >Cumulative fraction</text>
</g>
<path d="M441.80,219.60 C443.27,219.43 448.07,219.00 450.60,218.60 C453.13,218.20 454.37,217.95 457.00,217.20 C459.63,216.45 463.78,215.57 466.40,214.10 C469.02,212.63 470.60,210.62 472.70,208.40 C474.80,206.18 476.88,203.75 479.00,200.80 C481.12,197.85 483.73,193.53 485.40,190.70 C487.07,187.87 487.35,187.68 489.00,183.80 C490.65,179.92 493.42,172.13 495.30,167.40 C497.18,162.67 498.42,159.08 500.30,155.40 C502.18,151.72 504.48,148.57 506.60,145.30 C508.72,142.03 510.68,138.58 513.00,135.80 C515.32,133.02 517.77,130.18 520.50,128.60 C523.23,127.02 524.65,126.70 529.40,126.30 C534.15,125.90 545.73,126.22 549.00,126.20" fill="none" stroke="#c4c4c4" stroke-width="1.9" stroke-linejoin="round" stroke-linecap="round" />
<path d="M441.80,219.50 C443.27,219.30 448.07,218.80 450.60,218.30 C453.13,217.80 454.88,217.15 457.00,216.50 C459.12,215.85 461.20,215.75 463.30,214.40 C465.40,213.05 467.50,210.67 469.60,208.40 C471.70,206.13 473.80,203.53 475.90,200.80 C478.00,198.07 480.65,194.83 482.20,192.00 C483.75,189.17 483.65,187.90 485.20,183.80 C486.75,179.70 489.62,172.35 491.50,167.40 C493.38,162.45 494.82,157.78 496.50,154.10 C498.18,150.42 499.70,148.35 501.60,145.30 C503.50,142.25 505.58,138.58 507.90,135.80 C510.22,133.02 512.87,130.18 515.50,128.60 C518.13,127.02 518.12,126.70 523.70,126.30 C529.28,125.90 544.78,126.22 549.00,126.20" fill="none" stroke="#3fb1da" stroke-width="1.9" stroke-linejoin="round" stroke-linecap="round" />
<path d="M441.80,219.50 C443.27,219.25 448.07,218.65 450.60,218.00 C453.13,217.35 454.88,216.50 457.00,215.60 C459.12,214.70 461.73,213.70 463.30,212.60 C464.87,211.50 465.35,210.53 466.40,209.00 C467.45,207.47 468.43,204.97 469.60,203.40 C470.77,201.83 472.03,201.40 473.40,199.60 C474.77,197.80 476.58,195.23 477.80,192.60 C479.02,189.97 479.37,187.48 480.70,183.80 C482.03,180.12 484.22,174.60 485.80,170.50 C487.38,166.40 489.05,162.77 490.20,159.20 C491.35,155.63 491.75,151.85 492.70,149.10 C493.65,146.35 494.63,144.60 495.90,142.70 C497.17,140.80 498.72,139.58 500.30,137.70 C501.88,135.82 503.28,133.25 505.40,131.40 C507.52,129.55 510.68,127.47 513.00,126.60 C515.32,125.73 513.30,126.27 519.30,126.20 C525.30,126.13 544.05,126.20 549.00,126.20" fill="none" stroke="#d8414d" stroke-width="1.9" stroke-linejoin="round" stroke-linecap="round" />
<line x1="461.6" y1="111" x2="461.6" y2="160.4" stroke="#231f20" stroke-width="0.9" />
<line x1="461.2" y1="160" x2="476" y2="160" stroke="#231f20" stroke-width="0.9" />
<line x1="464.4" y1="160" x2="464.4" y2="161.5" stroke="#231f20" stroke-width="0.8" />
<line x1="469" y1="160" x2="469" y2="161.5" stroke="#231f20" stroke-width="0.8" />
<line x1="473.5" y1="160" x2="473.5" y2="161.5" stroke="#231f20" stroke-width="0.8" />
<text x="458.2" y="119.2" font-size="8.8" text-anchor="end" fill="#231f20" >1</text>
<text x="458.2" y="138.1" font-size="8.8" text-anchor="end" fill="#231f20" >0</text>
<text x="458.2" y="155.6" font-size="8.8" text-anchor="end" fill="#231f20" >−1</text>
<g transform="translate(446.2,134) rotate(-90)">
<text x="0" y="0" font-size="8.8" text-anchor="middle" fill="#231f20" >log<tspan font-size="6" dy="2">2</tspan><tspan dy="-2">[KO</tspan><tspan font-size="6" dy="2">TE</tspan><tspan dy="-2">/WT</tspan><tspan font-size="6" dy="2">TE</tspan><tspan dy="-2">]</tspan></text>
</g>
<line x1="473.5" y1="120.5" x2="473.5" y2="152" stroke="#c4c4c4" stroke-width="1.0" />
<rect x="471.8" y="133.7" width="3.4" height="7.9" fill="#fff" stroke="#c4c4c4" stroke-width="1.0"/>
<line x1="471.8" y1="137.6" x2="475.2" y2="137.6" stroke="#c4c4c4" stroke-width="1.0" />
<line x1="469" y1="124.7" x2="469" y2="153.7" stroke="#3fb1da" stroke-width="1.0" />
<rect x="467.3" y="135.3" width="3.4" height="6.8" fill="#fff" stroke="#3fb1da" stroke-width="1.0"/>
<line x1="467.3" y1="138.7" x2="470.7" y2="138.7" stroke="#3fb1da" stroke-width="1.0" />
<line x1="464.4" y1="129" x2="464.4" y2="154.7" stroke="#d8414d" stroke-width="1.0" />
<rect x="462.7" y="137.9" width="3.4" height="6.3" fill="#fff" stroke="#d8414d" stroke-width="1.0"/>
<line x1="462.7" y1="141.6" x2="466.09999999999997" y2="141.6" stroke="#d8414d" stroke-width="1.0" />
<path d="M464.4,109.6 L464.4,107.5 L473.5,107.5 L473.5,109.6" fill="none" stroke="#d8414d" stroke-width="0.9" stroke-linejoin="round" stroke-linecap="round" stroke-linecap="butt"/>
<path d="M469.0,122.7 L469.0,120.6 L473.5,120.6 L473.5,122.7" fill="none" stroke="#3fb1da" stroke-width="0.9" stroke-linejoin="round" stroke-linecap="round" stroke-linecap="butt"/>
<text x="465.8" y="104.8" font-size="8.6" text-anchor="start" fill="#d8414d" ><tspan font-style="italic">P</tspan> = 3.048 × 10<tspan font-size="6" dy="-3">−27</tspan></text>
<text x="467.9" y="118.4" font-size="8.6" text-anchor="start" fill="#3fb1da" ><tspan font-style="italic">P</tspan> = 1.095 × 10<tspan font-size="6" dy="-3">−11</tspan></text>
<text x="551.2" y="148" font-size="8.6" text-anchor="end" fill="#d8414d" ><tspan font-style="italic">n</tspan> = 398</text>
<text x="558.2" y="160" font-size="8.6" text-anchor="end" fill="#3fb1da" ><tspan font-style="italic">n</tspan> = 1,065</text>
<text x="558.2" y="171.6" font-size="8.6" text-anchor="end" fill="#c4c4c4" ><tspan font-style="italic">n</tspan> = 5,943</text>
<line x1="484.2" y1="199" x2="489.8" y2="199" stroke="#d8414d" stroke-width="1.9" />
<text x="491.5" y="202" font-size="8.4" text-anchor="start" fill="#231f20" ><tspan textLength="81" lengthAdjust="spacingAndGlyphs">YTHDF1 + m<tspan font-size="5.5" dy="-2.8">6</tspan><tspan dy="2.8">A targets</tspan></tspan></text>
<line x1="484.2" y1="208.8" x2="489.8" y2="208.8" stroke="#3fb1da" stroke-width="1.9" />
<text x="491.5" y="211.8" font-size="8.4" text-anchor="start" fill="#231f20" >m<tspan font-size="5.5" dy="-2.8">6</tspan><tspan dy="2.8">A</tspan></text>
<line x1="484.2" y1="218.6" x2="489.8" y2="218.6" stroke="#c4c4c4" stroke-width="1.9" />
<text x="491.5" y="221.6" font-size="8.4" text-anchor="start" fill="#231f20" >Non-m<tspan font-size="5.5" dy="-2.8">6</tspan><tspan dy="2.8">A targets</tspan></text>
<text x="579.2" y="103.2" font-size="12.5" text-anchor="start" fill="#231f20" font-weight="bold">c</text>
<text transform="translate(616.25,105.80) scale(0.544,0.549)" font-size="20" font-weight="bold" text-anchor="middle" fill="#3aa34a" stroke="#3aa34a" stroke-width="0.35">A</text>
<text transform="translate(616.25,108.15) scale(0.544,0.161)" font-size="20" font-weight="bold" text-anchor="middle" fill="#3457a6" stroke="#3457a6" stroke-width="0.35">C</text>
<text transform="translate(616.25,109.94) scale(0.544,0.123)" font-size="20" font-weight="bold" text-anchor="middle" fill="#d3322f" stroke="#d3322f" stroke-width="0.35">U</text>
<text transform="translate(616.25,111.60) scale(0.504,0.114)" font-size="20" font-weight="bold" text-anchor="middle" fill="#f0a22c" stroke="#f0a22c" stroke-width="0.35">G</text>
<text transform="translate(623.55,107.18) scale(0.544,0.644)" font-size="20" font-weight="bold" text-anchor="middle" fill="#d3322f" stroke="#d3322f" stroke-width="0.35">U</text>
<text transform="translate(623.55,109.94) scale(0.544,0.189)" font-size="20" font-weight="bold" text-anchor="middle" fill="#3aa34a" stroke="#3aa34a" stroke-width="0.35">A</text>
<text transform="translate(623.55,111.60) scale(0.544,0.114)" font-size="20" font-weight="bold" text-anchor="middle" fill="#3457a6" stroke="#3457a6" stroke-width="0.35">C</text>
<text transform="translate(630.85,111.60) scale(0.504,0.947)" font-size="20" font-weight="bold" text-anchor="middle" fill="#f0a22c" stroke="#f0a22c" stroke-width="0.35">G</text>
<text transform="translate(638.15,111.60) scale(0.504,0.947)" font-size="20" font-weight="bold" text-anchor="middle" fill="#f0a22c" stroke="#f0a22c" stroke-width="0.35">G</text>
<text transform="translate(645.45,111.60) scale(0.544,0.947)" font-size="20" font-weight="bold" text-anchor="middle" fill="#3aa34a" stroke="#3aa34a" stroke-width="0.35">A</text>
<text transform="translate(652.75,111.60) scale(0.544,0.947)" font-size="20" font-weight="bold" text-anchor="middle" fill="#3457a6" stroke="#3457a6" stroke-width="0.35">C</text>
<text transform="translate(616.25,123.00) scale(0.544,0.617)" font-size="20" font-weight="bold" text-anchor="middle" fill="#3aa34a" stroke="#3aa34a" stroke-width="0.35">A</text>
<text transform="translate(616.25,129.00) scale(0.544,0.412)" font-size="20" font-weight="bold" text-anchor="middle" fill="#d3322f" stroke="#d3322f" stroke-width="0.35">U</text>
<text transform="translate(623.55,120.30) scale(0.544,0.432)" font-size="20" font-weight="bold" text-anchor="middle" fill="#3457a6" stroke="#3457a6" stroke-width="0.35">C</text>
<text transform="translate(623.55,127.50) scale(0.544,0.494)" font-size="20" font-weight="bold" text-anchor="middle" fill="#d3322f" stroke="#d3322f" stroke-width="0.35">U</text>
<text transform="translate(623.55,129.00) scale(0.544,0.103)" font-size="20" font-weight="bold" text-anchor="middle" fill="#3aa34a" stroke="#3aa34a" stroke-width="0.35">A</text>
<text transform="translate(630.85,129.00) scale(0.504,1.029)" font-size="20" font-weight="bold" text-anchor="middle" fill="#f0a22c" stroke="#f0a22c" stroke-width="0.35">G</text>
<text transform="translate(638.15,129.00) scale(0.504,1.029)" font-size="20" font-weight="bold" text-anchor="middle" fill="#f0a22c" stroke="#f0a22c" stroke-width="0.35">G</text>
<text transform="translate(645.45,125.70) scale(0.544,0.802)" font-size="20" font-weight="bold" text-anchor="middle" fill="#3aa34a" stroke="#3aa34a" stroke-width="0.35">A</text>
<text transform="translate(645.45,127.50) scale(0.544,0.123)" font-size="20" font-weight="bold" text-anchor="middle" fill="#3457a6" stroke="#3457a6" stroke-width="0.35">C</text>
<text transform="translate(645.45,129.00) scale(0.544,0.103)" font-size="20" font-weight="bold" text-anchor="middle" fill="#d3322f" stroke="#d3322f" stroke-width="0.35">U</text>
<text transform="translate(652.75,121.50) scale(0.544,0.514)" font-size="20" font-weight="bold" text-anchor="middle" fill="#3457a6" stroke="#3457a6" stroke-width="0.35">C</text>
<text transform="translate(652.75,129.00) scale(0.544,0.514)" font-size="20" font-weight="bold" text-anchor="middle" fill="#d3322f" stroke="#d3322f" stroke-width="0.35">U</text>
<text x="659" y="102.8" font-size="8.4" text-anchor="start" fill="#231f20" >WT</text>
<text x="659" y="111.7" font-size="8.4" text-anchor="start" fill="#231f20" ><tspan font-style="italic">P</tspan>=1 × 10<tspan font-size="5.5" dy="-3">−125</tspan><tspan dy="3"> </tspan><tspan font-style="italic">n</tspan> = 23,140</text>
<text x="659" y="120.2" font-size="8.4" text-anchor="start" fill="#231f20" ><tspan font-style="italic">Ythdf1</tspan><tspan font-size="5.5" dy="-3">−/−</tspan></text>
<text x="659" y="128.6" font-size="8.4" text-anchor="start" fill="#231f20" ><tspan font-style="italic">P</tspan>=1 × 10<tspan font-size="5.5" dy="-3">−58</tspan><tspan dy="3"> </tspan><tspan font-style="italic">n</tspan> = 17,397</text>
<line x1="606.8" y1="147" x2="606.8" y2="225.7" stroke="#555" stroke-width="0.9" />
<text x="605" y="157.60000000000002" font-size="11.2" text-anchor="end" fill="#231f20" >2.0</text>
<text x="605" y="174.87500000000003" font-size="11.2" text-anchor="end" fill="#231f20" >1.5</text>
<text x="605" y="192.15" font-size="11.2" text-anchor="end" fill="#231f20" >1.0</text>
<text x="605" y="209.425" font-size="11.2" text-anchor="end" fill="#231f20" >0.5</text>
<text x="605" y="226.70000000000002" font-size="11.2" text-anchor="end" fill="#231f20" >0</text>
<g transform="translate(584.3,190.6) rotate(-90)">
<text x="0" y="0" font-size="11.2" text-anchor="middle" fill="#231f20" >Frequency</text>
</g>
<path d="M607.80,219.20 C608.75,217.52 611.50,211.62 613.50,209.10 C615.50,206.58 617.80,206.00 619.80,204.10 C621.80,202.20 623.50,199.60 625.50,197.70 C627.50,195.80 629.07,194.02 631.80,192.70 C634.53,191.38 638.63,190.48 641.90,189.80 C645.17,189.12 648.77,189.02 651.40,188.60 C654.03,188.18 655.60,187.98 657.70,187.30 C659.80,186.62 662.03,185.43 664.00,184.50 C665.97,183.57 667.02,183.60 669.50,181.70 C671.98,179.80 676.22,176.10 678.90,173.10 C681.58,170.10 683.85,166.53 685.60,163.70 C687.35,160.87 688.30,158.23 689.40,156.10 C690.50,153.97 691.27,151.05 692.20,150.90 C693.13,150.75 693.90,152.43 695.00,155.20 C696.10,157.97 697.37,163.72 698.80,167.50 C700.23,171.28 701.70,174.12 703.60,177.90 C705.50,181.68 708.00,186.73 710.20,190.20 C712.40,193.67 714.12,196.18 716.80,198.70 C719.48,201.22 723.30,203.40 726.30,205.30 C729.30,207.20 732.12,208.35 734.80,210.10 C737.48,211.85 740.35,214.07 742.40,215.80 C744.45,217.53 746.23,219.25 747.10,220.50 C747.97,221.75 747.52,222.83 747.60,223.30" fill="none" stroke="#5aa96a" stroke-width="1.2" stroke-linejoin="round" stroke-linecap="round" />
<path d="M607.80,220.50 C608.75,219.13 611.50,214.20 613.50,212.30 C615.50,210.40 617.80,210.37 619.80,209.10 C621.80,207.83 623.40,206.38 625.50,204.70 C627.60,203.02 629.67,200.78 632.40,199.00 C635.13,197.22 639.27,195.27 641.90,194.00 C644.53,192.73 646.10,191.93 648.20,191.40 C650.30,190.87 652.38,191.32 654.50,190.80 C656.62,190.28 659.32,189.15 660.90,188.30 C662.48,187.45 662.57,186.80 664.00,185.70 C665.43,184.60 667.02,183.80 669.50,181.70 C671.98,179.60 676.22,176.10 678.90,173.10 C681.58,170.10 683.85,166.53 685.60,163.70 C687.35,160.87 688.30,158.23 689.40,156.10 C690.50,153.97 691.27,151.05 692.20,150.90 C693.13,150.75 693.90,152.43 695.00,155.20 C696.10,157.97 697.37,163.72 698.80,167.50 C700.23,171.28 701.70,174.12 703.60,177.90 C705.50,181.68 708.00,186.73 710.20,190.20 C712.40,193.67 714.12,196.18 716.80,198.70 C719.48,201.22 723.30,203.40 726.30,205.30 C729.30,207.20 732.12,208.35 734.80,210.10 C737.48,211.85 740.35,214.07 742.40,215.80 C744.45,217.53 746.23,219.25 747.10,220.50 C747.97,221.75 747.52,222.83 747.60,223.30" fill="none" stroke="#6aa6cc" stroke-width="1.2" stroke-linejoin="round" stroke-linecap="round" />
<path d="M607.80,220.50 C608.75,219.13 611.50,214.20 613.50,212.30 C615.50,210.40 617.80,210.37 619.80,209.10 C621.80,207.83 623.40,206.38 625.50,204.70 C627.60,203.02 629.67,200.78 632.40,199.00 C635.13,197.22 639.27,195.27 641.90,194.00 C644.53,192.73 646.10,191.93 648.20,191.40 C650.30,190.87 652.38,191.32 654.50,190.80 C656.62,190.28 659.32,189.15 660.90,188.30 C662.48,187.45 662.57,186.80 664.00,185.70 C665.43,184.60 667.02,183.80 669.50,181.70 C671.98,179.60 676.22,176.10 678.90,173.10 C681.58,170.10 683.85,166.53 685.60,163.70 C687.35,160.87 688.30,158.23 689.40,156.10 C690.50,153.97 691.27,151.05 692.20,150.90 C693.13,150.75 693.90,152.43 695.00,155.20 C696.10,157.97 697.37,163.72 698.80,167.50 C700.23,171.28 701.70,174.12 703.60,177.90 C705.50,181.68 708.00,186.73 710.20,190.20 C712.40,193.67 714.12,196.18 716.80,198.70 C719.48,201.22 723.30,203.40 726.30,205.30 C729.30,207.20 732.12,208.35 734.80,210.10 C737.48,211.85 740.35,214.07 742.40,215.80 C744.45,217.53 746.23,219.25 747.10,220.50 C747.97,221.75 747.52,222.83 747.60,223.30" fill="none" stroke="#eda86a" stroke-width="1.2" stroke-linejoin="round" stroke-linecap="round" />
<path d="M607.80,219.20 C608.75,217.52 611.50,211.62 613.50,209.10 C615.50,206.58 617.80,206.00 619.80,204.10 C621.80,202.20 623.50,199.60 625.50,197.70 C627.50,195.80 629.07,194.02 631.80,192.70 C634.53,191.38 638.63,190.48 641.90,189.80 C645.17,189.12 648.77,189.02 651.40,188.60 C654.03,188.18 655.60,187.98 657.70,187.30 C659.80,186.62 662.03,185.12 664.00,184.50 C665.97,183.88 667.02,184.85 669.50,183.60 C671.98,182.35 676.07,179.68 678.90,177.00 C681.73,174.32 684.60,170.20 686.50,167.50 C688.40,164.80 689.27,162.30 690.30,160.80 C691.33,159.30 691.75,158.18 692.70,158.50 C693.65,158.82 694.82,160.57 696.00,162.70 C697.18,164.83 698.53,168.62 699.80,171.30 C701.07,173.98 701.87,175.58 703.60,178.80 C705.33,182.02 708.00,187.23 710.20,190.60 C712.40,193.97 714.12,196.52 716.80,199.00 C719.48,201.48 723.30,203.62 726.30,205.50 C729.30,207.38 732.12,208.55 734.80,210.30 C737.48,212.05 740.35,214.27 742.40,216.00 C744.45,217.73 746.23,219.48 747.10,220.70 C747.97,221.92 747.52,222.87 747.60,223.30" fill="none" stroke="#cf5a55" stroke-width="1.2" stroke-linejoin="round" stroke-linecap="round" />
<line x1="608" y1="226.6" x2="625.5" y2="226.6" stroke="#231f20" stroke-width="2.0" />
<line x1="692.7" y1="226.6" x2="747.8" y2="226.6" stroke="#231f20" stroke-width="2.0" />
<rect x="625.5" y="224.4" width="67.2" height="4.0" fill="#e2e2e2" stroke="#333" stroke-width="0.8"/>
<line x1="625.5" y1="224.6" x2="655" y2="224.6" stroke="#231f20" stroke-width="1.2" />
<line x1="625.5" y1="187.8" x2="625.5" y2="235.2" stroke="#231f20" stroke-width="0.9" stroke-dasharray="2 1.6"/>
<line x1="692.5" y1="147.1" x2="692.5" y2="235.2" stroke="#231f20" stroke-width="0.9" stroke-dasharray="2 1.6"/>
<text x="615.2" y="246.2" font-size="11.0" text-anchor="middle" fill="#231f20" >5′ UTR</text>
<text x="656.5" y="246.2" font-size="11.0" text-anchor="middle" fill="#231f20" >CDS</text>
<text x="705.8" y="246.2" font-size="11.0" text-anchor="middle" fill="#231f20" >3′ UTR</text>
<rect x="611.4" y="136.1" width="9.6" height="8.4" fill="none" stroke="#5aa96a" stroke-width="1.0"/>
<text x="621.4" y="144.5" font-size="8.6" text-anchor="start" fill="#333" >WT1</text>
<rect x="611.4" y="146.6" width="9.6" height="8.4" fill="none" stroke="#cf5a55" stroke-width="1.0"/>
<text x="621.4" y="155.0" font-size="8.6" text-anchor="start" fill="#333" >WT2</text>
<rect x="611.4" y="157.0" width="9.6" height="8.4" fill="none" stroke="#6aa6cc" stroke-width="1.0"/>
<text x="621.4" y="165.39999999999998" font-size="8.6" text-anchor="start" fill="#333" ><tspan font-style="italic">Ythdf1</tspan><tspan font-size="5.5" dy="-3">−/−</tspan><tspan dy="3">1</tspan></text>
<rect x="611.4" y="167.5" width="9.6" height="8.4" fill="none" stroke="#eda86a" stroke-width="1.0"/>
<text x="621.4" y="175.89999999999998" font-size="8.6" text-anchor="start" fill="#333" ><tspan font-style="italic">Ythdf1</tspan><tspan font-size="5.5" dy="-3">−/−</tspan><tspan dy="3">2</tspan></text>
<text x="209.8" y="274.2" font-size="12.5" text-anchor="start" fill="#231f20" font-weight="bold">d</text>
<rect x="229.9" y="284.70" width="114.6" height="9.0" fill="#8b3a3d"/>
<text x="362.8" y="292.59999999999997" font-size="11.3" text-anchor="start" fill="#231f20" >Lysosome</text>
<rect x="229.9" y="299.58" width="114.1" height="9.0" fill="#8b3a3d"/>
<text x="362.8" y="307.47999999999996" font-size="11.3" text-anchor="start" fill="#231f20" >Phagosome</text>
<rect x="229.9" y="314.46" width="82.9" height="9.0" fill="#8b3a3d"/>
<text x="362.8" y="322.35999999999996" font-size="11.3" text-anchor="start" fill="#231f20" >Regulation of actin cytoskeleton</text>
<rect x="229.9" y="329.34" width="73.1" height="9.0" fill="#8b3a3d"/>
<text x="362.8" y="337.23999999999995" font-size="11.3" text-anchor="start" fill="#231f20" >Apoptosis</text>
<rect x="229.9" y="344.22" width="67.9" height="9.0" fill="#8b3a3d"/>
<text x="362.8" y="352.11999999999995" font-size="11.3" text-anchor="start" fill="#231f20" >Chemokine signalling pathway</text>
<rect x="229.9" y="359.10" width="49.7" height="9.0" fill="#8b3a3d"/>
<text x="362.8" y="367.0" font-size="11.3" text-anchor="start" fill="#231f20" >Endocytosis</text>
<rect x="229.9" y="373.98" width="35.1" height="9.0" fill="#8b3a3d"/>
<text x="362.8" y="381.88" font-size="11.3" text-anchor="start" fill="#231f20" >RNA degradation</text>
<line x1="229.4" y1="281.4" x2="229.4" y2="387.1" stroke="#231f20" stroke-width="1.0" />
<line x1="227.6" y1="281.4" x2="229.4" y2="281.4" stroke="#231f20" stroke-width="0.9" />
<line x1="227.6" y1="296.42999999999995" x2="229.4" y2="296.42999999999995" stroke="#231f20" stroke-width="0.9" />
<line x1="227.6" y1="311.46" x2="229.4" y2="311.46" stroke="#231f20" stroke-width="0.9" />
<line x1="227.6" y1="326.48999999999995" x2="229.4" y2="326.48999999999995" stroke="#231f20" stroke-width="0.9" />
<line x1="227.6" y1="341.52" x2="229.4" y2="341.52" stroke="#231f20" stroke-width="0.9" />
<line x1="227.6" y1="356.54999999999995" x2="229.4" y2="356.54999999999995" stroke="#231f20" stroke-width="0.9" />
<line x1="227.6" y1="371.58" x2="229.4" y2="371.58" stroke="#231f20" stroke-width="0.9" />
<line x1="227.6" y1="386.60999999999996" x2="229.4" y2="386.60999999999996" stroke="#231f20" stroke-width="0.9" />
<line x1="228.9" y1="386.6" x2="361.8" y2="386.6" stroke="#231f20" stroke-width="1.0" />
<line x1="229.4" y1="386.6" x2="229.4" y2="388.4" stroke="#231f20" stroke-width="0.9" />
<text x="229.4" y="399.4" font-size="10.4" text-anchor="middle" fill="#231f20" >0</text>
<line x1="251.4" y1="386.6" x2="251.4" y2="388.4" stroke="#231f20" stroke-width="0.9" />
<text x="251.4" y="399.4" font-size="10.4" text-anchor="middle" fill="#231f20" >2</text>
<line x1="273.4" y1="386.6" x2="273.4" y2="388.4" stroke="#231f20" stroke-width="0.9" />
<text x="273.4" y="399.4" font-size="10.4" text-anchor="middle" fill="#231f20" >4</text>
<line x1="295.4" y1="386.6" x2="295.4" y2="388.4" stroke="#231f20" stroke-width="0.9" />
<text x="295.4" y="399.4" font-size="10.4" text-anchor="middle" fill="#231f20" >6</text>
<line x1="317.4" y1="386.6" x2="317.4" y2="388.4" stroke="#231f20" stroke-width="0.9" />
<text x="317.4" y="399.4" font-size="10.4" text-anchor="middle" fill="#231f20" >8</text>
<line x1="339.4" y1="386.6" x2="339.4" y2="388.4" stroke="#231f20" stroke-width="0.9" />
<text x="339.4" y="399.4" font-size="10.4" text-anchor="middle" fill="#231f20" >10</text>
<line x1="361.4" y1="386.6" x2="361.4" y2="388.4" stroke="#231f20" stroke-width="0.9" />
<text x="361.4" y="399.4" font-size="10.4" text-anchor="middle" fill="#231f20" >12</text>
<text x="292.6" y="410.3" font-size="11.1" text-anchor="middle" fill="#231f20" >−log<tspan font-size="7.6" dy="2.6">10</tspan><tspan dy="-2.6" font-style="italic">P</tspan></text>
<text x="536.2" y="273.5" font-size="12.5" text-anchor="start" fill="#231f20" font-weight="bold">e</text>
<rect x="548.8" y="270.20" width="11.8" height="8.82" fill="#eea6c9" stroke="#a7a9ac" stroke-width="0.8"/>
<rect x="562.0" y="270.20" width="10.8" height="8.82" fill="#c03a40" stroke="#a7a9ac" stroke-width="0.8"/>
<rect x="574.2" y="270.20" width="11.6" height="8.82" fill="#f1a128" stroke="#a7a9ac" stroke-width="0.8"/>
<rect x="588.00" y="270.20" width="18.80" height="8.82" fill="#f5d5c5" stroke="#a7a9ac" stroke-width="0.8"/>
<rect x="606.80" y="270.20" width="18.80" height="8.82" fill="#f2cdbc" stroke="#a7a9ac" stroke-width="0.8"/>
<rect x="625.60" y="270.20" width="19.00" height="8.82" fill="#1a8ac4" stroke="#a7a9ac" stroke-width="0.8"/>
<rect x="644.60" y="270.20" width="19.00" height="8.82" fill="#b8d8ea" stroke="#a7a9ac" stroke-width="0.8"/>
<text x="666.2" y="277.59999999999997" font-size="8.9" text-anchor="start" fill="#231f20" font-style="italic">Ap1g1</text>
<rect x="548.8" y="279.02" width="11.8" height="8.82" fill="#eea6c9" stroke="#a7a9ac" stroke-width="0.8"/>
<rect x="562.0" y="279.02" width="10.8" height="8.82" fill="#fff" stroke="#a7a9ac" stroke-width="0.8"/>
<rect x="574.2" y="279.02" width="11.6" height="8.82" fill="#f1a128" stroke="#a7a9ac" stroke-width="0.8"/>
<rect x="588.00" y="279.02" width="18.80" height="8.82" fill="#f5e6de" stroke="#a7a9ac" stroke-width="0.8"/>
<rect x="606.80" y="279.02" width="18.80" height="8.82" fill="#e8a38d" stroke="#a7a9ac" stroke-width="0.8"/>
<rect x="625.60" y="279.02" width="19.00" height="8.82" fill="#8ec4e0" stroke="#a7a9ac" stroke-width="0.8"/>
<rect x="644.60" y="279.02" width="19.00" height="8.82" fill="#4aa3d2" stroke="#a7a9ac" stroke-width="0.8"/>
<text x="666.2" y="286.41999999999996" font-size="8.9" text-anchor="start" fill="#231f20" font-style="italic">Asah1</text>
<rect x="548.8" y="287.84" width="11.8" height="8.82" fill="#eea6c9" stroke="#a7a9ac" stroke-width="0.8"/>
<rect x="562.0" y="287.84" width="10.8" height="8.82" fill="#c03a40" stroke="#a7a9ac" stroke-width="0.8"/>
<rect x="574.2" y="287.84" width="11.6" height="8.82" fill="#f1a128" stroke="#a7a9ac" stroke-width="0.8"/>
<rect x="588.00" y="287.84" width="18.80" height="8.82" fill="#f4cfbf" stroke="#a7a9ac" stroke-width="0.8"/>
<rect x="606.80" y="287.84" width="18.80" height="8.82" fill="#e4957f" stroke="#a7a9ac" stroke-width="0.8"/>
<rect x="625.60" y="287.84" width="19.00" height="8.82" fill="#1b94cc" stroke="#a7a9ac" stroke-width="0.8"/>
<rect x="644.60" y="287.84" width="19.00" height="8.82" fill="#3a9fd1" stroke="#a7a9ac" stroke-width="0.8"/>
<text x="666.2" y="295.23999999999995" font-size="8.9" text-anchor="start" fill="#231f20" font-style="italic">Clta</text>
<rect x="548.8" y="296.66" width="11.8" height="8.82" fill="#eea6c9" stroke="#a7a9ac" stroke-width="0.8"/>
<rect x="562.0" y="296.66" width="10.8" height="8.82" fill="#c03a40" stroke="#a7a9ac" stroke-width="0.8"/>
<rect x="574.2" y="296.66" width="11.6" height="8.82" fill="#f1a128" stroke="#a7a9ac" stroke-width="0.8"/>
<rect x="588.00" y="296.66" width="18.80" height="8.82" fill="#e3917a" stroke="#a7a9ac" stroke-width="0.8"/>
<rect x="606.80" y="296.66" width="18.80" height="8.82" fill="#a8323e" stroke="#a7a9ac" stroke-width="0.8"/>
<rect x="625.60" y="296.66" width="19.00" height="8.82" fill="#0b6ea6" stroke="#a7a9ac" stroke-width="0.8"/>
<rect x="644.60" y="296.66" width="19.00" height="8.82" fill="#1280bd" stroke="#a7a9ac" stroke-width="0.8"/>
<text x="666.2" y="304.05999999999995" font-size="8.9" text-anchor="start" fill="#231f20" font-style="italic">Gm2a</text>
<rect x="548.8" y="305.48" width="11.8" height="8.82" fill="#eea6c9" stroke="#a7a9ac" stroke-width="0.8"/>
<rect x="562.0" y="305.48" width="10.8" height="8.82" fill="#c03a40" stroke="#a7a9ac" stroke-width="0.8"/>
<rect x="574.2" y="305.48" width="11.6" height="8.82" fill="#f1a128" stroke="#a7a9ac" stroke-width="0.8"/>
<rect x="588.00" y="305.48" width="18.80" height="8.82" fill="#f5d8c8" stroke="#a7a9ac" stroke-width="0.8"/>
<rect x="606.80" y="305.48" width="18.80" height="8.82" fill="#ecb49e" stroke="#a7a9ac" stroke-width="0.8"/>
<rect x="625.60" y="305.48" width="19.00" height="8.82" fill="#1c97cf" stroke="#a7a9ac" stroke-width="0.8"/>
<rect x="644.60" y="305.48" width="19.00" height="8.82" fill="#8cc3e0" stroke="#a7a9ac" stroke-width="0.8"/>
<text x="666.2" y="312.88" font-size="8.9" text-anchor="start" fill="#231f20" font-style="italic">Gns</text>
<rect x="548.8" y="314.30" width="11.8" height="8.82" fill="#eea6c9" stroke="#a7a9ac" stroke-width="0.8"/>
<rect x="562.0" y="314.30" width="10.8" height="8.82" fill="#fff" stroke="#a7a9ac" stroke-width="0.8"/>
<rect x="574.2" y="314.30" width="11.6" height="8.82" fill="#f1a128" stroke="#a7a9ac" stroke-width="0.8"/>
<rect x="588.00" y="314.30" width="18.80" height="8.82" fill="#e08c78" stroke="#a7a9ac" stroke-width="0.8"/>
<rect x="606.80" y="314.30" width="18.80" height="8.82" fill="#8a1a32" stroke="#a7a9ac" stroke-width="0.8"/>
<rect x="625.60" y="314.30" width="19.00" height="8.82" fill="#0a557f" stroke="#a7a9ac" stroke-width="0.8"/>
<rect x="644.60" y="314.30" width="19.00" height="8.82" fill="#0f76b2" stroke="#a7a9ac" stroke-width="0.8"/>
<text x="666.2" y="321.7" font-size="8.9" text-anchor="start" fill="#231f20" font-style="italic">Laptm5</text>
<rect x="548.8" y="323.12" width="11.8" height="8.82" fill="#eea6c9" stroke="#a7a9ac" stroke-width="0.8"/>
<rect x="562.0" y="323.12" width="10.8" height="8.82" fill="#c03a40" stroke="#a7a9ac" stroke-width="0.8"/>
<rect x="574.2" y="323.12" width="11.6" height="8.82" fill="#f1a128" stroke="#a7a9ac" stroke-width="0.8"/>
<rect x="588.00" y="323.12" width="18.80" height="8.82" fill="#f5dccf" stroke="#a7a9ac" stroke-width="0.8"/>
<rect x="606.80" y="323.12" width="18.80" height="8.82" fill="#e39a84" stroke="#a7a9ac" stroke-width="0.8"/>
<rect x="625.60" y="323.12" width="19.00" height="8.82" fill="#219bd1" stroke="#a7a9ac" stroke-width="0.8"/>
<rect x="644.60" y="323.12" width="19.00" height="8.82" fill="#4ea6d4" stroke="#a7a9ac" stroke-width="0.8"/>
<text x="666.2" y="330.52" font-size="8.9" text-anchor="start" fill="#231f20" font-style="italic">Lipa</text>
<rect x="548.8" y="331.94" width="11.8" height="8.82" fill="#eea6c9" stroke="#a7a9ac" stroke-width="0.8"/>
<rect x="562.0" y="331.94" width="10.8" height="8.82" fill="#c03a40" stroke="#a7a9ac" stroke-width="0.8"/>
<rect x="574.2" y="331.94" width="11.6" height="8.82" fill="#f1a128" stroke="#a7a9ac" stroke-width="0.8"/>
<rect x="588.00" y="331.94" width="18.80" height="8.82" fill="#f6e2d8" stroke="#a7a9ac" stroke-width="0.8"/>
<rect x="606.80" y="331.94" width="18.80" height="8.82" fill="#efbca6" stroke="#a7a9ac" stroke-width="0.8"/>
<rect x="625.60" y="331.94" width="19.00" height="8.82" fill="#3ea4d4" stroke="#a7a9ac" stroke-width="0.8"/>
<rect x="644.60" y="331.94" width="19.00" height="8.82" fill="#a3cfe7" stroke="#a7a9ac" stroke-width="0.8"/>
<text x="666.2" y="339.34" font-size="8.9" text-anchor="start" fill="#231f20" font-style="italic">Naga</text>
<rect x="548.8" y="340.76" width="11.8" height="8.82" fill="#eea6c9" stroke="#a7a9ac" stroke-width="0.8"/>
<rect x="562.0" y="340.76" width="10.8" height="8.82" fill="#c03a40" stroke="#a7a9ac" stroke-width="0.8"/>
<rect x="574.2" y="340.76" width="11.6" height="8.82" fill="#f1a128" stroke="#a7a9ac" stroke-width="0.8"/>
<rect x="588.00" y="340.76" width="18.80" height="8.82" fill="#f5dbcc" stroke="#a7a9ac" stroke-width="0.8"/>
<rect x="606.80" y="340.76" width="18.80" height="8.82" fill="#e3957f" stroke="#a7a9ac" stroke-width="0.8"/>
<rect x="625.60" y="340.76" width="19.00" height="8.82" fill="#1996cd" stroke="#a7a9ac" stroke-width="0.8"/>
<rect x="644.60" y="340.76" width="19.00" height="8.82" fill="#47a3d3" stroke="#a7a9ac" stroke-width="0.8"/>
<text x="666.2" y="348.15999999999997" font-size="8.9" text-anchor="start" fill="#231f20" font-style="italic">Npc2</text>
<rect x="548.8" y="349.58" width="11.8" height="8.82" fill="#eea6c9" stroke="#a7a9ac" stroke-width="0.8"/>
<rect x="562.0" y="349.58" width="10.8" height="8.82" fill="#c03a40" stroke="#a7a9ac" stroke-width="0.8"/>
<rect x="574.2" y="349.58" width="11.6" height="8.82" fill="#f1a128" stroke="#a7a9ac" stroke-width="0.8"/>
<rect x="588.00" y="349.58" width="18.80" height="8.82" fill="#f4d2c1" stroke="#a7a9ac" stroke-width="0.8"/>
<rect x="606.80" y="349.58" width="18.80" height="8.82" fill="#df8b76" stroke="#a7a9ac" stroke-width="0.8"/>
<rect x="625.60" y="349.58" width="19.00" height="8.82" fill="#48a6d5" stroke="#a7a9ac" stroke-width="0.8"/>
<rect x="644.60" y="349.58" width="19.00" height="8.82" fill="#0e8ac8" stroke="#a7a9ac" stroke-width="0.8"/>
<text x="666.2" y="356.97999999999996" font-size="8.9" text-anchor="start" fill="#231f20" font-style="italic">Ctsb</text>
<rect x="548.8" y="358.40" width="11.8" height="8.82" fill="#eea6c9" stroke="#a7a9ac" stroke-width="0.8"/>
<rect x="562.0" y="358.40" width="10.8" height="8.82" fill="#c03a40" stroke="#a7a9ac" stroke-width="0.8"/>
<rect x="574.2" y="358.40" width="11.6" height="8.82" fill="#f1a128" stroke="#a7a9ac" stroke-width="0.8"/>
<rect x="588.00" y="358.40" width="18.80" height="8.82" fill="#f2c6b2" stroke="#a7a9ac" stroke-width="0.8"/>
<rect x="606.80" y="358.40" width="18.80" height="8.82" fill="#f0c3ae" stroke="#a7a9ac" stroke-width="0.8"/>
<rect x="625.60" y="358.40" width="19.00" height="8.82" fill="#1f9bd0" stroke="#a7a9ac" stroke-width="0.8"/>
<rect x="644.60" y="358.40" width="19.00" height="8.82" fill="#3fa2d3" stroke="#a7a9ac" stroke-width="0.8"/>
<text x="666.2" y="365.79999999999995" font-size="8.9" text-anchor="start" fill="#231f20" font-style="italic">Ctsc</text>
<rect x="548.8" y="367.22" width="11.8" height="8.82" fill="#eea6c9" stroke="#a7a9ac" stroke-width="0.8"/>
<rect x="562.0" y="367.22" width="10.8" height="8.82" fill="#c03a40" stroke="#a7a9ac" stroke-width="0.8"/>
<rect x="574.2" y="367.22" width="11.6" height="8.82" fill="#f1a128" stroke="#a7a9ac" stroke-width="0.8"/>
<rect x="588.00" y="367.22" width="18.80" height="8.82" fill="#f5dfd3" stroke="#a7a9ac" stroke-width="0.8"/>
<rect x="606.80" y="367.22" width="18.80" height="8.82" fill="#c94f51" stroke="#a7a9ac" stroke-width="0.8"/>
<rect x="625.60" y="367.22" width="19.00" height="8.82" fill="#1993cc" stroke="#a7a9ac" stroke-width="0.8"/>
<rect x="644.60" y="367.22" width="19.00" height="8.82" fill="#1491cb" stroke="#a7a9ac" stroke-width="0.8"/>
<text x="666.2" y="374.62" font-size="8.9" text-anchor="start" fill="#231f20" font-style="italic">Ctsh</text>
<rect x="548.8" y="376.04" width="11.8" height="8.82" fill="#eea6c9" stroke="#a7a9ac" stroke-width="0.8"/>
<rect x="562.0" y="376.04" width="10.8" height="8.82" fill="#c03a40" stroke="#a7a9ac" stroke-width="0.8"/>
<rect x="574.2" y="376.04" width="11.6" height="8.82" fill="#f1a128" stroke="#a7a9ac" stroke-width="0.8"/>
<rect x="588.00" y="376.04" width="18.80" height="8.82" fill="#eba990" stroke="#a7a9ac" stroke-width="0.8"/>
<rect x="606.80" y="376.04" width="18.80" height="8.82" fill="#8f1f35" stroke="#a7a9ac" stroke-width="0.8"/>
<rect x="625.60" y="376.04" width="19.00" height="8.82" fill="#0a5e8c" stroke="#a7a9ac" stroke-width="0.8"/>
<rect x="644.60" y="376.04" width="19.00" height="8.82" fill="#0f82c1" stroke="#a7a9ac" stroke-width="0.8"/>
<text x="666.2" y="383.43999999999994" font-size="8.9" text-anchor="start" fill="#231f20" font-style="italic">Ctss</text>
<g transform="translate(552.3,389.5) rotate(90)">
<text x="0" y="0" font-size="10.6" text-anchor="start" fill="#231f20" >Group</text>
</g>
<g transform="translate(563.6,389.5) rotate(90)">
<text x="0" y="0" font-size="10.6" text-anchor="start" fill="#231f20" >m<tspan font-size="6.5" dy="-3.5">6</tspan><tspan dy="3.5">A</tspan></text>
</g>
<g transform="translate(577.0,389.5) rotate(90)">
<text x="0" y="0" font-size="10.6" text-anchor="start" fill="#231f20" >Target</text>
</g>
<g transform="translate(593.2,389.5) rotate(90)">
<text x="0" y="0" font-size="10.6" text-anchor="start" fill="#231f20" >WT1</text>
</g>
<g transform="translate(612.9,389.5) rotate(90)">
<text x="0" y="0" font-size="10.6" text-anchor="start" fill="#231f20" >WT2</text>
</g>
<g transform="translate(630.6,389.5) rotate(90)">
<text x="0" y="0" font-size="10.6" text-anchor="start" fill="#231f20" >KO1</text>
</g>
<g transform="translate(649.7,389.5) rotate(90)">
<text x="0" y="0" font-size="10.6" text-anchor="start" fill="#231f20" >KO2</text>
</g>
<defs><linearGradient id="cb" x1="0" y1="0" x2="0" y2="1"><stop offset="0" stop-color="#8b1a35"/><stop offset="0.25" stop-color="#d9735f"/><stop offset="0.5" stop-color="#f7f7f7"/><stop offset="0.75" stop-color="#6db4dc"/><stop offset="1" stop-color="#0a6aa0"/></linearGradient></defs>
<rect x="700.2" y="285.9" width="5.6" height="35.7" fill="url(#cb)"/>
<text x="712.8" y="292.8" font-size="8.3" text-anchor="start" fill="#333" >0.3</text>
<text x="712.8" y="305.5" font-size="8.3" text-anchor="start" fill="#333" >0</text>
<text x="708.2" y="318.5" font-size="8.3" text-anchor="start" fill="#333" >−0.3</text>
<text x="700.3" y="330.7" font-size="8.3" text-anchor="start" fill="#231f20" >Group</text>
<rect x="701.2" y="336.1" width="4.4" height="3.9" fill="#eea6c9"/>
<text x="708.6" y="340.4" font-size="8.3" text-anchor="start" fill="#231f20" >Lysosome</text>
<text x="700.3" y="350.7" font-size="8.3" text-anchor="start" fill="#231f20" >m<tspan font-size="5.5" dy="-3">6</tspan><tspan dy="3">A</tspan></text>
<rect x="701.2" y="355.1" width="4.4" height="3.9" fill="#c03a40"/>
<text x="708.3" y="359.5" font-size="8.3" text-anchor="start" fill="#231f20" >m<tspan font-size="5.5" dy="-3">6</tspan><tspan dy="3">A</tspan></text>
<text x="700.3" y="369.6" font-size="8.3" text-anchor="start" fill="#231f20" >Target</text>
<rect x="701.2" y="373.4" width="4.4" height="3.6" fill="#e99a36"/>
<text x="708.3" y="379.2" font-size="8.3" text-anchor="start" fill="#231f20" >YTHDF1</text>
</svg>

<div class="col cap" style="left:68px;top:429.6px;">
<div><b>Fig. 3 | Transcriptome-wide identification and analysis of YTHDF1-</b></div>
<div><b>binding sites. a</b>, Volcano plots of genes with differential translational</div>
<div>efficiency in wild-type and <i>Ythdf1</i><sup class="k">−/−</sup> FLT3L-DCs (adjusted <i>P</i> ≤ 0.1</div>
<div>and fold change ≥ 0.5). Transcripts with YTHDF1-binding sites in 3′</div>
<div>UTR are shown with yellow circles. <i>P</i> values calculated with two-sided</div>
<div>likelihood ratio test and adjusted by Benjamini–Hochberg method; <i>n</i> = 4</div>
<div>(2 conditions × 2 biological replicates). <b>b</b>, Cumulative distribution of</div>
<div>the fold change in translational efficiency between wild-type (WT<sub>TE</sub>)</div>
<div>and <i>Ythdf1</i><sup class="k">−/−</sup> (KO<sub>TE</sub>) FLT3L-DCs. <i>P</i> values calculated using two-sided</div>
<div>Kolmogorov–Smirnov test; <i>n</i> = 2 independent biological replicates. Box-</div>
<div>plot elements: centre line, median; box limits, upper and lower quartiles;</div>
</div>

<div class="col cap" style="left:489.5px;top:429.6px;">
<div>whiskers, 1–99%. <b>c</b>, Metagene plot depicting nearly unchanged m<sup>6</sup>A peak</div>
<div>distribution and similar consensus motifs in wild-type (WT1 and WT2</div>
<div>represent replicates) and <i>Ythdf1</i><sup class="k">−/−</sup> (<i>Ythfd1</i><sup class="k">−/−</sup>1 and <i>Ythfd1</i><sup class="k">−/−</sup>2 represent</div>
<div>replicates) FLT3L-DCs. <i>P</i> values of consensus motifs generated by</div>
<div>HOMER<sup>29</sup> using one-sided binomial test. <b>d</b>, KEGG enrichment analysis</div>
<div>of genes with significantly decreased translation efficiency (adjusted</div>
<div><i>P</i> ≤ 0.1 and fold change ≤ −0.5) and YTHDF1-binding sites in 3′ UTR</div>
<div>(<i>n</i> = 204). One-sided hypergeometric test was used to determine statistical</div>
<div>significance of enrichment. <b>e</b>, Heatmap showing the translational</div>
<div>efficiency of lysosome genes in wild-type and <i>Ythdf1</i><sup class="k">−/−</sup> (KO1 and KO2</div>
<div>represent replicates) FLT3L-DCs. <i>n</i>, number of genes or m<sup>6</sup>A peaks.</div>
</div>

<div class="col txt" style="left:68px;top:626.2px;width:402px;">
<div class="l">toxin, wild-type cDCs expressing <i>Zbtb46</i>-DTR are selectively elimi-</div>
<div class="l">nated, with all remaining cDCs in <i>Zbtb46</i>-DTR:<i>Ythdf1</i><sup class="k">−/−</sup> mice being</div>
<div style="word-spacing:-0.98px" class="l"><i>Ythdf1</i>-deficient. We also established chimeric <i>Zbtb46</i>-DTR:<i>Ythdf1</i><sup class="k">+/+</sup></div>
<div class="l">mice as controls. We found that B16-OVA tumours grew similarly in</div>
<div class="l"><i>Zbtb46</i>-DTR:<i>Ythdf1</i><sup class="k">+/+</sup> and <i>Zbtb46</i>-DTR:<i>Ythdf1</i><sup class="k">−/−</sup> chimeric mice</div>
<div class="l">that were not treated with diphtheria toxin (Fig. 2i). Notably, treat-</div>
<div class="l">ment with diphtheria toxin substantially reduced tumour growth in</div>
<div class="l"><i>Zbtb46</i>-DTR:<i>Ythdf1</i><sup class="k">−/−</sup> mice compared with <i>Zbtb46</i>-DTR:<i>Ythdf1</i><sup class="k">+/+</sup></div>
<div class="l">mice (Fig. 2i). These data demonstrate that specific <i>Ythdf1</i> depletion</div>
<div class="l">in cDCs is sufficient to generate the antitumour response. Together,</div>
<div class="l">these findings suggest that YTHDF1 in cDCs limits their cross-</div>
<div style="word-spacing:-1.06px" class="l">presentation capacity in vivo, and that altered T cell or DC homeostasis</div>
<div style="word-spacing:-0.17px" class="l">or development in <i>Ythdf1</i><sup class="k">−/−</sup> mice does not contribute substantially to</div>
<div class="e">antitumour activity.</div>
<div class="l ind">We next performed RNA immunoprecipitation and sequencing</div>
<div style="word-spacing:-1.00px" class="l">(RIP–seq) to map target transcripts bound by YTHDF1 in FLT3L-DCs.</div>
<div style="word-spacing:-0.40px" class="l">YTHDF1-binding sites were highly reproducible between two biolog-</div>
<div class="l">ical replicates (Extended Data Fig. 6a, b), and were predominantly</div>
<div class="l">distributed in the coding region and 3′ untranslated region (UTR;</div>
<div class="l">Extended Data Fig. 6c, d). Given that YTHDF1 is known to affect</div>
<div class="l">mRNA translation<sup>5</sup>, we assessed the translational efficiency of wild-</div>
<div style="word-spacing:-1.34px" class="l">type and <i>Ythdf1</i><sup class="k">−/−</sup> DCs by ribosome profiling. We also performed anti-</div>
<div style="word-spacing:-1.29px" class="l">body-based m<sup>6</sup>A profiling and RNA sequencing (RNA-seq) in the same</div>
<div class="l">cells. We categorized transcripts into three groups: non-m<sup>6</sup>A marked</div>
<div class="l">transcripts, m<sup>6</sup>A-containing transcripts, and m<sup>6</sup>A-marked transcripts</div>
<div style="word-spacing:-0.94px" class="l">bound by YTHDF1. As expected, we found a notable decrease in trans-</div>
<div class="l">lation efficiency, particularly for YTHDF1-targeted and m<sup>6</sup>A-marked</div>
<div style="word-spacing:-1.63px" class="l">transcripts, in <i>Ythdf1</i><sup class="k">−/−</sup> DCs compared with wild-type DCs (Fig. 3a, b),</div>
<div class="l">whereas <i>Ythdf1</i> deficiency did not substantially alter the distribution</div>
<div class="e">of m<sup>6</sup>A in mRNAs from DCs (Fig. 3c).</div>
<div class="l ind">To identify the functional pathways that are associated with</div>
<div class="l">YTHDF1-targeted mRNAs, we analysed m<sup>6</sup>A-marked mRNAs that</div>
<div style="word-spacing:-1.03px" class="l">are both targets of YTHDF1 and translationally regulated by YTHDF1.</div>
<div class="l">We performed Kyoto Encyclopedia of Genes and Genomes (KEGG)</div>
<div class="l">pathway enrichment analysis, which showed that YTHDF1-targeted</div>
</div>

<div class="col txt" style="left:489.5px;top:626.2px;width:401px;">
<div class="l">transcripts were enriched for pathways associated with phagosomes</div>
<div class="l">and lysosomes (Fig. 3d). Limiting lysosomal proteolysis in DCs can</div>
<div class="l">enhance cross-presentation by minimizing destruction of internalized</div>
<div style="word-spacing:-0.10px" class="l">antigens<sup>26,27</sup>. We noticed that translation of a group of transcripts that</div>
<div style="word-spacing:-0.85px" class="l">encode lysosomal cathepsins, which are responsible for antigen degra-</div>
<div style="word-spacing:-1.46px" class="l">dation in DC lysosomes<sup>26,27</sup>, was repressed in <i>Ythdf1</i><sup class="k">−/−</sup> DCs compared</div>
<div style="word-spacing:-0.64px" class="l">with wild-type DCs (Fig. 3e). By contrast, the translational efficacy of</div>
<div class="l">co-stimulatory or inhibitory molecules (signal 2) and cytokines (sig-</div>
<div style="word-spacing:-0.42px" class="l">nal 3) was not substantially altered in YTHDF1-deficient FLT3L-DCs</div>
<div class="l">(Extended Data Fig. 6e). In line with the observation in FLT3L-DCs,</div>
<div style="word-spacing:-0.10px" class="l">loss of <i>Ythdf1</i> resulted in decreased translational efficiency of cathes-</div>
<div style="word-spacing:-1.89px" class="l">pins in granulocyte–macrophage colony-stimulating factor (GM-CSF)-</div>
<div class="l">induced bone marrow DCs (GMDCs; Extended Data Fig. 7a–f).</div>
<div style="word-spacing:-1.18px" class="l">Consistently, we found that multiple cathepsin transcripts are bound by</div>
<div style="word-spacing:-0.61px" class="l">YTHDF1, and <i>Ythdf1</i> knockout resulted in significant decreases in the</div>
<div style="word-spacing:-0.44px" class="l">translation of these genes in both GMDCs and FLT3L-DCs (Extended</div>
<div style="word-spacing:-1.71px" class="l">Data Fig. 7g). These data suggest that lysosomal cathepsins are the main</div>
<div class="l">targets controlled by YTHDF1, and that they subsequently affect the</div>
<div class="e">cross-priming capacity of DCs.</div>
<div style="word-spacing:-0.71px" class="l ind">Consistent with the reduced translational efficiency of m<sup>6</sup>A-marked</div>
<div class="l">transcripts in <i>Ythdf1</i><sup class="k">−/−</sup> cDCs based on ribosome profiling, we also</div>
<div class="l">observed downregulation of cathepsins in <i>Ythdf1</i><sup class="k">−/−</sup> cDCs compared</div>
<div style="word-spacing:-1.51px" class="l">to wild-type cDCs in vivo (Fig. 4a) and in vitro (Extended Data Fig. 8a),</div>
<div class="l">although the decay of their transcripts was less affected by YTHDF1</div>
<div class="l">depletion (Extended Data Fig. 8b). We reasoned that the reduced</div>
<div class="l">cathepsin levels could delay the degradation of the ingested neoanti-</div>
<div style="word-spacing:-1.99px" class="l">gens and facilitate sustained antigen release in endosomes or lysosomes,</div>
<div style="word-spacing:-0.97px" class="l">thereby contributing to the improved antigen presentation in <i>Ythdf1</i><sup class="k">−/−</sup></div>
<div class="l">DCs. To test this hypothesis, we co-cultured GMDCs from wild-type</div>
<div class="l">and <i>Ythdf1</i><sup class="k">−/−</sup> mice with B16-OVA cells overnight and assessed puri-</div>
<div class="l">fied DCs for intact residual OVA. We observed more residual intact</div>
<div style="word-spacing:-0.48px" class="l">OVA in <i>Ythdf1</i><sup class="k">−/−</sup> GMDCs than in <i>Ythdf1</i><sup class="k">+/+</sup> GMDCs (Extended Data</div>
<div style="word-spacing:-1.05px" class="l">Fig. 8c). We subsequently investigated whether the reduced translation</div>
<div class="l">efficiency of YTHDF1-target cathepsins affects cross-presentation in</div>
<div class="l"><i>Ythdf1</i><sup class="k">−/−</sup> DCs. Inhibition of cathepsins using the broad-spectrum</div>
</div>

<div class="ftr"><span style="position:absolute;left:0;letter-spacing:2.45px">NATURE</span><span style="position:absolute;left:56.3px;top:-1px;width:0.7px;height:10px;background:#999"></span><span style="position:absolute;left:60px;letter-spacing:0.62px">www.nature.com/nature</span></div>

</body></html>
